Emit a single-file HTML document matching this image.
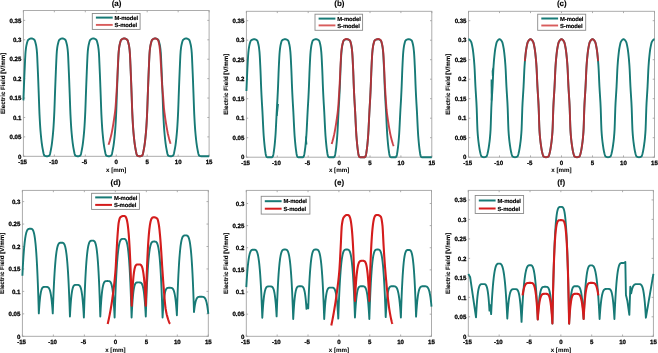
<!DOCTYPE html>
<html><head><meta charset="utf-8"><style>
html,body{margin:0;padding:0;background:#fff;width:658px;height:353px;overflow:hidden}
svg{display:block;will-change:transform}
text{text-rendering:geometricPrecision}
.t{font-family:"Liberation Sans", sans-serif;font-weight:bold;font-size:6.1px;fill:#000;stroke:#000;stroke-width:0.26px}
.yl{font-family:"Liberation Sans", sans-serif;font-weight:bold;font-size:6.2px;fill:#000;stroke:#000;stroke-width:0.12px}
.xl{font-family:"Liberation Sans", sans-serif;font-weight:bold;font-size:6.2px;fill:#000;stroke:#000;stroke-width:0.05px}
.ti{font-family:"Liberation Sans", sans-serif;font-weight:bold;font-size:8px;fill:#000;stroke:#000;stroke-width:0.1px}
.lg{font-family:"Liberation Sans", sans-serif;font-weight:bold;font-size:5.9px;fill:#000;stroke:#000;stroke-width:0.15px;letter-spacing:-0.12px}
</style></head><body>
<svg width="658" height="353" viewBox="0 0 658 353">
<rect width="658" height="353" fill="#fff"/>
<rect x="23.4" y="10.5" width="185.70" height="145.80" fill="none" stroke="#a8a8a8" stroke-width="0.95"/>
<line x1="23.40" y1="156.3" x2="23.40" y2="154.50" stroke="#9a9a9a" stroke-width="0.8"/>
<line x1="23.40" y1="10.5" x2="23.40" y2="12.30" stroke="#9a9a9a" stroke-width="0.8"/>
<text x="22.60" y="164.30" text-anchor="middle" class="t">-15</text>
<line x1="54.35" y1="156.3" x2="54.35" y2="154.50" stroke="#9a9a9a" stroke-width="0.8"/>
<line x1="54.35" y1="10.5" x2="54.35" y2="12.30" stroke="#9a9a9a" stroke-width="0.8"/>
<text x="53.55" y="164.30" text-anchor="middle" class="t">-10</text>
<line x1="85.30" y1="156.3" x2="85.30" y2="154.50" stroke="#9a9a9a" stroke-width="0.8"/>
<line x1="85.30" y1="10.5" x2="85.30" y2="12.30" stroke="#9a9a9a" stroke-width="0.8"/>
<text x="84.50" y="164.30" text-anchor="middle" class="t">-5</text>
<line x1="116.25" y1="156.3" x2="116.25" y2="154.50" stroke="#9a9a9a" stroke-width="0.8"/>
<line x1="116.25" y1="10.5" x2="116.25" y2="12.30" stroke="#9a9a9a" stroke-width="0.8"/>
<text x="116.25" y="164.30" text-anchor="middle" class="t">0</text>
<line x1="147.20" y1="156.3" x2="147.20" y2="154.50" stroke="#9a9a9a" stroke-width="0.8"/>
<line x1="147.20" y1="10.5" x2="147.20" y2="12.30" stroke="#9a9a9a" stroke-width="0.8"/>
<text x="147.20" y="164.30" text-anchor="middle" class="t">5</text>
<line x1="178.15" y1="156.3" x2="178.15" y2="154.50" stroke="#9a9a9a" stroke-width="0.8"/>
<line x1="178.15" y1="10.5" x2="178.15" y2="12.30" stroke="#9a9a9a" stroke-width="0.8"/>
<text x="178.15" y="164.30" text-anchor="middle" class="t">10</text>
<line x1="209.10" y1="156.3" x2="209.10" y2="154.50" stroke="#9a9a9a" stroke-width="0.8"/>
<line x1="209.10" y1="10.5" x2="209.10" y2="12.30" stroke="#9a9a9a" stroke-width="0.8"/>
<text x="209.10" y="164.30" text-anchor="middle" class="t">15</text>
<line x1="23.4" y1="156.30" x2="25.20" y2="156.30" stroke="#9a9a9a" stroke-width="0.8"/>
<line x1="209.1" y1="156.30" x2="207.30" y2="156.30" stroke="#9a9a9a" stroke-width="0.8"/>
<text x="21.40" y="158.50" text-anchor="end" class="t">0</text>
<line x1="23.4" y1="136.89" x2="25.20" y2="136.89" stroke="#9a9a9a" stroke-width="0.8"/>
<line x1="209.1" y1="136.89" x2="207.30" y2="136.89" stroke="#9a9a9a" stroke-width="0.8"/>
<text x="21.40" y="139.09" text-anchor="end" class="t">0.05</text>
<line x1="23.4" y1="117.47" x2="25.20" y2="117.47" stroke="#9a9a9a" stroke-width="0.8"/>
<line x1="209.1" y1="117.47" x2="207.30" y2="117.47" stroke="#9a9a9a" stroke-width="0.8"/>
<text x="21.40" y="119.67" text-anchor="end" class="t">0.1</text>
<line x1="23.4" y1="98.06" x2="25.20" y2="98.06" stroke="#9a9a9a" stroke-width="0.8"/>
<line x1="209.1" y1="98.06" x2="207.30" y2="98.06" stroke="#9a9a9a" stroke-width="0.8"/>
<text x="21.40" y="100.26" text-anchor="end" class="t">0.15</text>
<line x1="23.4" y1="78.64" x2="25.20" y2="78.64" stroke="#9a9a9a" stroke-width="0.8"/>
<line x1="209.1" y1="78.64" x2="207.30" y2="78.64" stroke="#9a9a9a" stroke-width="0.8"/>
<text x="21.40" y="80.84" text-anchor="end" class="t">0.2</text>
<line x1="23.4" y1="59.23" x2="25.20" y2="59.23" stroke="#9a9a9a" stroke-width="0.8"/>
<line x1="209.1" y1="59.23" x2="207.30" y2="59.23" stroke="#9a9a9a" stroke-width="0.8"/>
<text x="21.40" y="61.43" text-anchor="end" class="t">0.25</text>
<line x1="23.4" y1="39.81" x2="25.20" y2="39.81" stroke="#9a9a9a" stroke-width="0.8"/>
<line x1="209.1" y1="39.81" x2="207.30" y2="39.81" stroke="#9a9a9a" stroke-width="0.8"/>
<text x="21.40" y="42.01" text-anchor="end" class="t">0.3</text>
<line x1="23.4" y1="20.39" x2="25.20" y2="20.39" stroke="#9a9a9a" stroke-width="0.8"/>
<line x1="209.1" y1="20.39" x2="207.30" y2="20.39" stroke="#9a9a9a" stroke-width="0.8"/>
<text x="21.40" y="22.59" text-anchor="end" class="t">0.35</text>
<text x="116.55" y="5.60" text-anchor="middle" class="ti">(a)</text>
<text x="116.25" y="171.50" text-anchor="middle" class="xl">x [mm]</text>
<text transform="translate(5.20,83.40) rotate(-90)" x="0" y="0" text-anchor="middle" class="yl">Electric Field [V/mm]</text>
<rect x="246.4" y="11.3" width="185.40" height="145.90" fill="none" stroke="#a8a8a8" stroke-width="0.95"/>
<line x1="246.40" y1="157.2" x2="246.40" y2="155.40" stroke="#9a9a9a" stroke-width="0.8"/>
<line x1="246.40" y1="11.3" x2="246.40" y2="13.10" stroke="#9a9a9a" stroke-width="0.8"/>
<text x="245.60" y="165.20" text-anchor="middle" class="t">-15</text>
<line x1="277.30" y1="157.2" x2="277.30" y2="155.40" stroke="#9a9a9a" stroke-width="0.8"/>
<line x1="277.30" y1="11.3" x2="277.30" y2="13.10" stroke="#9a9a9a" stroke-width="0.8"/>
<text x="276.50" y="165.20" text-anchor="middle" class="t">-10</text>
<line x1="308.20" y1="157.2" x2="308.20" y2="155.40" stroke="#9a9a9a" stroke-width="0.8"/>
<line x1="308.20" y1="11.3" x2="308.20" y2="13.10" stroke="#9a9a9a" stroke-width="0.8"/>
<text x="307.40" y="165.20" text-anchor="middle" class="t">-5</text>
<line x1="339.10" y1="157.2" x2="339.10" y2="155.40" stroke="#9a9a9a" stroke-width="0.8"/>
<line x1="339.10" y1="11.3" x2="339.10" y2="13.10" stroke="#9a9a9a" stroke-width="0.8"/>
<text x="339.10" y="165.20" text-anchor="middle" class="t">0</text>
<line x1="370.00" y1="157.2" x2="370.00" y2="155.40" stroke="#9a9a9a" stroke-width="0.8"/>
<line x1="370.00" y1="11.3" x2="370.00" y2="13.10" stroke="#9a9a9a" stroke-width="0.8"/>
<text x="370.00" y="165.20" text-anchor="middle" class="t">5</text>
<line x1="400.90" y1="157.2" x2="400.90" y2="155.40" stroke="#9a9a9a" stroke-width="0.8"/>
<line x1="400.90" y1="11.3" x2="400.90" y2="13.10" stroke="#9a9a9a" stroke-width="0.8"/>
<text x="400.90" y="165.20" text-anchor="middle" class="t">10</text>
<line x1="431.80" y1="157.2" x2="431.80" y2="155.40" stroke="#9a9a9a" stroke-width="0.8"/>
<line x1="431.80" y1="11.3" x2="431.80" y2="13.10" stroke="#9a9a9a" stroke-width="0.8"/>
<text x="431.80" y="165.20" text-anchor="middle" class="t">15</text>
<line x1="246.4" y1="157.20" x2="248.20" y2="157.20" stroke="#9a9a9a" stroke-width="0.8"/>
<line x1="431.8" y1="157.20" x2="430.00" y2="157.20" stroke="#9a9a9a" stroke-width="0.8"/>
<text x="244.40" y="159.40" text-anchor="end" class="t">0</text>
<line x1="246.4" y1="137.70" x2="248.20" y2="137.70" stroke="#9a9a9a" stroke-width="0.8"/>
<line x1="431.8" y1="137.70" x2="430.00" y2="137.70" stroke="#9a9a9a" stroke-width="0.8"/>
<text x="244.40" y="139.90" text-anchor="end" class="t">0.05</text>
<line x1="246.4" y1="118.20" x2="248.20" y2="118.20" stroke="#9a9a9a" stroke-width="0.8"/>
<line x1="431.8" y1="118.20" x2="430.00" y2="118.20" stroke="#9a9a9a" stroke-width="0.8"/>
<text x="244.40" y="120.40" text-anchor="end" class="t">0.1</text>
<line x1="246.4" y1="98.70" x2="248.20" y2="98.70" stroke="#9a9a9a" stroke-width="0.8"/>
<line x1="431.8" y1="98.70" x2="430.00" y2="98.70" stroke="#9a9a9a" stroke-width="0.8"/>
<text x="244.40" y="100.90" text-anchor="end" class="t">0.15</text>
<line x1="246.4" y1="79.20" x2="248.20" y2="79.20" stroke="#9a9a9a" stroke-width="0.8"/>
<line x1="431.8" y1="79.20" x2="430.00" y2="79.20" stroke="#9a9a9a" stroke-width="0.8"/>
<text x="244.40" y="81.40" text-anchor="end" class="t">0.2</text>
<line x1="246.4" y1="59.70" x2="248.20" y2="59.70" stroke="#9a9a9a" stroke-width="0.8"/>
<line x1="431.8" y1="59.70" x2="430.00" y2="59.70" stroke="#9a9a9a" stroke-width="0.8"/>
<text x="244.40" y="61.90" text-anchor="end" class="t">0.25</text>
<line x1="246.4" y1="40.20" x2="248.20" y2="40.20" stroke="#9a9a9a" stroke-width="0.8"/>
<line x1="431.8" y1="40.20" x2="430.00" y2="40.20" stroke="#9a9a9a" stroke-width="0.8"/>
<text x="244.40" y="42.40" text-anchor="end" class="t">0.3</text>
<line x1="246.4" y1="20.70" x2="248.20" y2="20.70" stroke="#9a9a9a" stroke-width="0.8"/>
<line x1="431.8" y1="20.70" x2="430.00" y2="20.70" stroke="#9a9a9a" stroke-width="0.8"/>
<text x="244.40" y="22.90" text-anchor="end" class="t">0.35</text>
<text x="339.40" y="5.60" text-anchor="middle" class="ti">(b)</text>
<text x="339.10" y="172.40" text-anchor="middle" class="xl">x [mm]</text>
<text transform="translate(228.20,84.25) rotate(-90)" x="0" y="0" text-anchor="middle" class="yl">Electric Field [V/mm]</text>
<rect x="468.5" y="11.3" width="186.00" height="145.90" fill="none" stroke="#a8a8a8" stroke-width="0.95"/>
<line x1="468.50" y1="157.2" x2="468.50" y2="155.40" stroke="#9a9a9a" stroke-width="0.8"/>
<line x1="468.50" y1="11.3" x2="468.50" y2="13.10" stroke="#9a9a9a" stroke-width="0.8"/>
<text x="467.70" y="165.20" text-anchor="middle" class="t">-15</text>
<line x1="499.50" y1="157.2" x2="499.50" y2="155.40" stroke="#9a9a9a" stroke-width="0.8"/>
<line x1="499.50" y1="11.3" x2="499.50" y2="13.10" stroke="#9a9a9a" stroke-width="0.8"/>
<text x="498.70" y="165.20" text-anchor="middle" class="t">-10</text>
<line x1="530.50" y1="157.2" x2="530.50" y2="155.40" stroke="#9a9a9a" stroke-width="0.8"/>
<line x1="530.50" y1="11.3" x2="530.50" y2="13.10" stroke="#9a9a9a" stroke-width="0.8"/>
<text x="529.70" y="165.20" text-anchor="middle" class="t">-5</text>
<line x1="561.50" y1="157.2" x2="561.50" y2="155.40" stroke="#9a9a9a" stroke-width="0.8"/>
<line x1="561.50" y1="11.3" x2="561.50" y2="13.10" stroke="#9a9a9a" stroke-width="0.8"/>
<text x="561.50" y="165.20" text-anchor="middle" class="t">0</text>
<line x1="592.50" y1="157.2" x2="592.50" y2="155.40" stroke="#9a9a9a" stroke-width="0.8"/>
<line x1="592.50" y1="11.3" x2="592.50" y2="13.10" stroke="#9a9a9a" stroke-width="0.8"/>
<text x="592.50" y="165.20" text-anchor="middle" class="t">5</text>
<line x1="623.50" y1="157.2" x2="623.50" y2="155.40" stroke="#9a9a9a" stroke-width="0.8"/>
<line x1="623.50" y1="11.3" x2="623.50" y2="13.10" stroke="#9a9a9a" stroke-width="0.8"/>
<text x="623.50" y="165.20" text-anchor="middle" class="t">10</text>
<line x1="654.50" y1="157.2" x2="654.50" y2="155.40" stroke="#9a9a9a" stroke-width="0.8"/>
<line x1="654.50" y1="11.3" x2="654.50" y2="13.10" stroke="#9a9a9a" stroke-width="0.8"/>
<text x="654.50" y="165.20" text-anchor="middle" class="t">15</text>
<line x1="468.5" y1="157.20" x2="470.30" y2="157.20" stroke="#9a9a9a" stroke-width="0.8"/>
<line x1="654.5" y1="157.20" x2="652.70" y2="157.20" stroke="#9a9a9a" stroke-width="0.8"/>
<text x="466.50" y="159.40" text-anchor="end" class="t">0</text>
<line x1="468.5" y1="137.70" x2="470.30" y2="137.70" stroke="#9a9a9a" stroke-width="0.8"/>
<line x1="654.5" y1="137.70" x2="652.70" y2="137.70" stroke="#9a9a9a" stroke-width="0.8"/>
<text x="466.50" y="139.90" text-anchor="end" class="t">0.05</text>
<line x1="468.5" y1="118.20" x2="470.30" y2="118.20" stroke="#9a9a9a" stroke-width="0.8"/>
<line x1="654.5" y1="118.20" x2="652.70" y2="118.20" stroke="#9a9a9a" stroke-width="0.8"/>
<text x="466.50" y="120.40" text-anchor="end" class="t">0.1</text>
<line x1="468.5" y1="98.70" x2="470.30" y2="98.70" stroke="#9a9a9a" stroke-width="0.8"/>
<line x1="654.5" y1="98.70" x2="652.70" y2="98.70" stroke="#9a9a9a" stroke-width="0.8"/>
<text x="466.50" y="100.90" text-anchor="end" class="t">0.15</text>
<line x1="468.5" y1="79.20" x2="470.30" y2="79.20" stroke="#9a9a9a" stroke-width="0.8"/>
<line x1="654.5" y1="79.20" x2="652.70" y2="79.20" stroke="#9a9a9a" stroke-width="0.8"/>
<text x="466.50" y="81.40" text-anchor="end" class="t">0.2</text>
<line x1="468.5" y1="59.70" x2="470.30" y2="59.70" stroke="#9a9a9a" stroke-width="0.8"/>
<line x1="654.5" y1="59.70" x2="652.70" y2="59.70" stroke="#9a9a9a" stroke-width="0.8"/>
<text x="466.50" y="61.90" text-anchor="end" class="t">0.25</text>
<line x1="468.5" y1="40.20" x2="470.30" y2="40.20" stroke="#9a9a9a" stroke-width="0.8"/>
<line x1="654.5" y1="40.20" x2="652.70" y2="40.20" stroke="#9a9a9a" stroke-width="0.8"/>
<text x="466.50" y="42.40" text-anchor="end" class="t">0.3</text>
<line x1="468.5" y1="20.70" x2="470.30" y2="20.70" stroke="#9a9a9a" stroke-width="0.8"/>
<line x1="654.5" y1="20.70" x2="652.70" y2="20.70" stroke="#9a9a9a" stroke-width="0.8"/>
<text x="466.50" y="22.90" text-anchor="end" class="t">0.35</text>
<text x="561.80" y="5.60" text-anchor="middle" class="ti">(c)</text>
<text x="561.50" y="172.40" text-anchor="middle" class="xl">x [mm]</text>
<text transform="translate(450.30,84.25) rotate(-90)" x="0" y="0" text-anchor="middle" class="yl">Electric Field [V/mm]</text>
<rect x="22.4" y="190.4" width="185.90" height="145.90" fill="none" stroke="#a8a8a8" stroke-width="0.95"/>
<line x1="22.40" y1="336.3" x2="22.40" y2="334.50" stroke="#9a9a9a" stroke-width="0.8"/>
<line x1="22.40" y1="190.4" x2="22.40" y2="192.20" stroke="#9a9a9a" stroke-width="0.8"/>
<text x="21.60" y="344.30" text-anchor="middle" class="t">-15</text>
<line x1="53.38" y1="336.3" x2="53.38" y2="334.50" stroke="#9a9a9a" stroke-width="0.8"/>
<line x1="53.38" y1="190.4" x2="53.38" y2="192.20" stroke="#9a9a9a" stroke-width="0.8"/>
<text x="52.58" y="344.30" text-anchor="middle" class="t">-10</text>
<line x1="84.37" y1="336.3" x2="84.37" y2="334.50" stroke="#9a9a9a" stroke-width="0.8"/>
<line x1="84.37" y1="190.4" x2="84.37" y2="192.20" stroke="#9a9a9a" stroke-width="0.8"/>
<text x="83.57" y="344.30" text-anchor="middle" class="t">-5</text>
<line x1="115.35" y1="336.3" x2="115.35" y2="334.50" stroke="#9a9a9a" stroke-width="0.8"/>
<line x1="115.35" y1="190.4" x2="115.35" y2="192.20" stroke="#9a9a9a" stroke-width="0.8"/>
<text x="115.35" y="344.30" text-anchor="middle" class="t">0</text>
<line x1="146.33" y1="336.3" x2="146.33" y2="334.50" stroke="#9a9a9a" stroke-width="0.8"/>
<line x1="146.33" y1="190.4" x2="146.33" y2="192.20" stroke="#9a9a9a" stroke-width="0.8"/>
<text x="146.33" y="344.30" text-anchor="middle" class="t">5</text>
<line x1="177.32" y1="336.3" x2="177.32" y2="334.50" stroke="#9a9a9a" stroke-width="0.8"/>
<line x1="177.32" y1="190.4" x2="177.32" y2="192.20" stroke="#9a9a9a" stroke-width="0.8"/>
<text x="177.32" y="344.30" text-anchor="middle" class="t">10</text>
<line x1="208.30" y1="336.3" x2="208.30" y2="334.50" stroke="#9a9a9a" stroke-width="0.8"/>
<line x1="208.30" y1="190.4" x2="208.30" y2="192.20" stroke="#9a9a9a" stroke-width="0.8"/>
<text x="208.30" y="344.30" text-anchor="middle" class="t">15</text>
<line x1="22.4" y1="336.30" x2="24.20" y2="336.30" stroke="#9a9a9a" stroke-width="0.8"/>
<line x1="208.3" y1="336.30" x2="206.50" y2="336.30" stroke="#9a9a9a" stroke-width="0.8"/>
<text x="20.40" y="338.50" text-anchor="end" class="t">0</text>
<line x1="22.4" y1="313.85" x2="24.20" y2="313.85" stroke="#9a9a9a" stroke-width="0.8"/>
<line x1="208.3" y1="313.85" x2="206.50" y2="313.85" stroke="#9a9a9a" stroke-width="0.8"/>
<text x="20.40" y="316.05" text-anchor="end" class="t">0.05</text>
<line x1="22.4" y1="291.40" x2="24.20" y2="291.40" stroke="#9a9a9a" stroke-width="0.8"/>
<line x1="208.3" y1="291.40" x2="206.50" y2="291.40" stroke="#9a9a9a" stroke-width="0.8"/>
<text x="20.40" y="293.60" text-anchor="end" class="t">0.1</text>
<line x1="22.4" y1="268.95" x2="24.20" y2="268.95" stroke="#9a9a9a" stroke-width="0.8"/>
<line x1="208.3" y1="268.95" x2="206.50" y2="268.95" stroke="#9a9a9a" stroke-width="0.8"/>
<text x="20.40" y="271.15" text-anchor="end" class="t">0.15</text>
<line x1="22.4" y1="246.50" x2="24.20" y2="246.50" stroke="#9a9a9a" stroke-width="0.8"/>
<line x1="208.3" y1="246.50" x2="206.50" y2="246.50" stroke="#9a9a9a" stroke-width="0.8"/>
<text x="20.40" y="248.70" text-anchor="end" class="t">0.2</text>
<line x1="22.4" y1="224.05" x2="24.20" y2="224.05" stroke="#9a9a9a" stroke-width="0.8"/>
<line x1="208.3" y1="224.05" x2="206.50" y2="224.05" stroke="#9a9a9a" stroke-width="0.8"/>
<text x="20.40" y="226.25" text-anchor="end" class="t">0.25</text>
<line x1="22.4" y1="201.60" x2="24.20" y2="201.60" stroke="#9a9a9a" stroke-width="0.8"/>
<line x1="208.3" y1="201.60" x2="206.50" y2="201.60" stroke="#9a9a9a" stroke-width="0.8"/>
<text x="20.40" y="203.80" text-anchor="end" class="t">0.3</text>
<text x="115.65" y="185.00" text-anchor="middle" class="ti">(d)</text>
<text x="115.35" y="351.50" text-anchor="middle" class="xl">x [mm]</text>
<text transform="translate(4.20,263.35) rotate(-90)" x="0" y="0" text-anchor="middle" class="yl">Electric Field [V/mm]</text>
<rect x="246.3" y="190.4" width="185.20" height="145.90" fill="none" stroke="#a8a8a8" stroke-width="0.95"/>
<line x1="246.30" y1="336.3" x2="246.30" y2="334.50" stroke="#9a9a9a" stroke-width="0.8"/>
<line x1="246.30" y1="190.4" x2="246.30" y2="192.20" stroke="#9a9a9a" stroke-width="0.8"/>
<text x="245.50" y="344.30" text-anchor="middle" class="t">-15</text>
<line x1="277.17" y1="336.3" x2="277.17" y2="334.50" stroke="#9a9a9a" stroke-width="0.8"/>
<line x1="277.17" y1="190.4" x2="277.17" y2="192.20" stroke="#9a9a9a" stroke-width="0.8"/>
<text x="276.37" y="344.30" text-anchor="middle" class="t">-10</text>
<line x1="308.03" y1="336.3" x2="308.03" y2="334.50" stroke="#9a9a9a" stroke-width="0.8"/>
<line x1="308.03" y1="190.4" x2="308.03" y2="192.20" stroke="#9a9a9a" stroke-width="0.8"/>
<text x="307.23" y="344.30" text-anchor="middle" class="t">-5</text>
<line x1="338.90" y1="336.3" x2="338.90" y2="334.50" stroke="#9a9a9a" stroke-width="0.8"/>
<line x1="338.90" y1="190.4" x2="338.90" y2="192.20" stroke="#9a9a9a" stroke-width="0.8"/>
<text x="338.90" y="344.30" text-anchor="middle" class="t">0</text>
<line x1="369.77" y1="336.3" x2="369.77" y2="334.50" stroke="#9a9a9a" stroke-width="0.8"/>
<line x1="369.77" y1="190.4" x2="369.77" y2="192.20" stroke="#9a9a9a" stroke-width="0.8"/>
<text x="369.77" y="344.30" text-anchor="middle" class="t">5</text>
<line x1="400.63" y1="336.3" x2="400.63" y2="334.50" stroke="#9a9a9a" stroke-width="0.8"/>
<line x1="400.63" y1="190.4" x2="400.63" y2="192.20" stroke="#9a9a9a" stroke-width="0.8"/>
<text x="400.63" y="344.30" text-anchor="middle" class="t">10</text>
<line x1="431.50" y1="336.3" x2="431.50" y2="334.50" stroke="#9a9a9a" stroke-width="0.8"/>
<line x1="431.50" y1="190.4" x2="431.50" y2="192.20" stroke="#9a9a9a" stroke-width="0.8"/>
<text x="431.50" y="344.30" text-anchor="middle" class="t">15</text>
<line x1="246.3" y1="336.30" x2="248.10" y2="336.30" stroke="#9a9a9a" stroke-width="0.8"/>
<line x1="431.5" y1="336.30" x2="429.70" y2="336.30" stroke="#9a9a9a" stroke-width="0.8"/>
<text x="244.30" y="338.50" text-anchor="end" class="t">0</text>
<line x1="246.3" y1="314.17" x2="248.10" y2="314.17" stroke="#9a9a9a" stroke-width="0.8"/>
<line x1="431.5" y1="314.17" x2="429.70" y2="314.17" stroke="#9a9a9a" stroke-width="0.8"/>
<text x="244.30" y="316.37" text-anchor="end" class="t">0.05</text>
<line x1="246.3" y1="292.03" x2="248.10" y2="292.03" stroke="#9a9a9a" stroke-width="0.8"/>
<line x1="431.5" y1="292.03" x2="429.70" y2="292.03" stroke="#9a9a9a" stroke-width="0.8"/>
<text x="244.30" y="294.23" text-anchor="end" class="t">0.1</text>
<line x1="246.3" y1="269.89" x2="248.10" y2="269.89" stroke="#9a9a9a" stroke-width="0.8"/>
<line x1="431.5" y1="269.89" x2="429.70" y2="269.89" stroke="#9a9a9a" stroke-width="0.8"/>
<text x="244.30" y="272.09" text-anchor="end" class="t">0.15</text>
<line x1="246.3" y1="247.76" x2="248.10" y2="247.76" stroke="#9a9a9a" stroke-width="0.8"/>
<line x1="431.5" y1="247.76" x2="429.70" y2="247.76" stroke="#9a9a9a" stroke-width="0.8"/>
<text x="244.30" y="249.96" text-anchor="end" class="t">0.2</text>
<line x1="246.3" y1="225.62" x2="248.10" y2="225.62" stroke="#9a9a9a" stroke-width="0.8"/>
<line x1="431.5" y1="225.62" x2="429.70" y2="225.62" stroke="#9a9a9a" stroke-width="0.8"/>
<text x="244.30" y="227.82" text-anchor="end" class="t">0.25</text>
<line x1="246.3" y1="203.49" x2="248.10" y2="203.49" stroke="#9a9a9a" stroke-width="0.8"/>
<line x1="431.5" y1="203.49" x2="429.70" y2="203.49" stroke="#9a9a9a" stroke-width="0.8"/>
<text x="244.30" y="205.69" text-anchor="end" class="t">0.3</text>
<text x="339.20" y="185.00" text-anchor="middle" class="ti">(e)</text>
<text x="338.90" y="351.50" text-anchor="middle" class="xl">x [mm]</text>
<text transform="translate(228.10,263.35) rotate(-90)" x="0" y="0" text-anchor="middle" class="yl">Electric Field [V/mm]</text>
<rect x="468.3" y="190.4" width="185.10" height="145.90" fill="none" stroke="#a8a8a8" stroke-width="0.95"/>
<line x1="468.30" y1="336.3" x2="468.30" y2="334.50" stroke="#9a9a9a" stroke-width="0.8"/>
<line x1="468.30" y1="190.4" x2="468.30" y2="192.20" stroke="#9a9a9a" stroke-width="0.8"/>
<text x="467.50" y="344.30" text-anchor="middle" class="t">-15</text>
<line x1="499.15" y1="336.3" x2="499.15" y2="334.50" stroke="#9a9a9a" stroke-width="0.8"/>
<line x1="499.15" y1="190.4" x2="499.15" y2="192.20" stroke="#9a9a9a" stroke-width="0.8"/>
<text x="498.35" y="344.30" text-anchor="middle" class="t">-10</text>
<line x1="530.00" y1="336.3" x2="530.00" y2="334.50" stroke="#9a9a9a" stroke-width="0.8"/>
<line x1="530.00" y1="190.4" x2="530.00" y2="192.20" stroke="#9a9a9a" stroke-width="0.8"/>
<text x="529.20" y="344.30" text-anchor="middle" class="t">-5</text>
<line x1="560.85" y1="336.3" x2="560.85" y2="334.50" stroke="#9a9a9a" stroke-width="0.8"/>
<line x1="560.85" y1="190.4" x2="560.85" y2="192.20" stroke="#9a9a9a" stroke-width="0.8"/>
<text x="560.85" y="344.30" text-anchor="middle" class="t">0</text>
<line x1="591.70" y1="336.3" x2="591.70" y2="334.50" stroke="#9a9a9a" stroke-width="0.8"/>
<line x1="591.70" y1="190.4" x2="591.70" y2="192.20" stroke="#9a9a9a" stroke-width="0.8"/>
<text x="591.70" y="344.30" text-anchor="middle" class="t">5</text>
<line x1="622.55" y1="336.3" x2="622.55" y2="334.50" stroke="#9a9a9a" stroke-width="0.8"/>
<line x1="622.55" y1="190.4" x2="622.55" y2="192.20" stroke="#9a9a9a" stroke-width="0.8"/>
<text x="622.55" y="344.30" text-anchor="middle" class="t">10</text>
<line x1="653.40" y1="336.3" x2="653.40" y2="334.50" stroke="#9a9a9a" stroke-width="0.8"/>
<line x1="653.40" y1="190.4" x2="653.40" y2="192.20" stroke="#9a9a9a" stroke-width="0.8"/>
<text x="653.40" y="344.30" text-anchor="middle" class="t">15</text>
<line x1="468.3" y1="336.30" x2="470.10" y2="336.30" stroke="#9a9a9a" stroke-width="0.8"/>
<line x1="653.4" y1="336.30" x2="651.60" y2="336.30" stroke="#9a9a9a" stroke-width="0.8"/>
<text x="466.30" y="338.50" text-anchor="end" class="t">0</text>
<line x1="468.3" y1="316.81" x2="470.10" y2="316.81" stroke="#9a9a9a" stroke-width="0.8"/>
<line x1="653.4" y1="316.81" x2="651.60" y2="316.81" stroke="#9a9a9a" stroke-width="0.8"/>
<text x="466.30" y="319.01" text-anchor="end" class="t">0.05</text>
<line x1="468.3" y1="297.33" x2="470.10" y2="297.33" stroke="#9a9a9a" stroke-width="0.8"/>
<line x1="653.4" y1="297.33" x2="651.60" y2="297.33" stroke="#9a9a9a" stroke-width="0.8"/>
<text x="466.30" y="299.53" text-anchor="end" class="t">0.1</text>
<line x1="468.3" y1="277.85" x2="470.10" y2="277.85" stroke="#9a9a9a" stroke-width="0.8"/>
<line x1="653.4" y1="277.85" x2="651.60" y2="277.85" stroke="#9a9a9a" stroke-width="0.8"/>
<text x="466.30" y="280.05" text-anchor="end" class="t">0.15</text>
<line x1="468.3" y1="258.36" x2="470.10" y2="258.36" stroke="#9a9a9a" stroke-width="0.8"/>
<line x1="653.4" y1="258.36" x2="651.60" y2="258.36" stroke="#9a9a9a" stroke-width="0.8"/>
<text x="466.30" y="260.56" text-anchor="end" class="t">0.2</text>
<line x1="468.3" y1="238.88" x2="470.10" y2="238.88" stroke="#9a9a9a" stroke-width="0.8"/>
<line x1="653.4" y1="238.88" x2="651.60" y2="238.88" stroke="#9a9a9a" stroke-width="0.8"/>
<text x="466.30" y="241.07" text-anchor="end" class="t">0.25</text>
<line x1="468.3" y1="219.39" x2="470.10" y2="219.39" stroke="#9a9a9a" stroke-width="0.8"/>
<line x1="653.4" y1="219.39" x2="651.60" y2="219.39" stroke="#9a9a9a" stroke-width="0.8"/>
<text x="466.30" y="221.59" text-anchor="end" class="t">0.3</text>
<line x1="468.3" y1="199.91" x2="470.10" y2="199.91" stroke="#9a9a9a" stroke-width="0.8"/>
<line x1="653.4" y1="199.91" x2="651.60" y2="199.91" stroke="#9a9a9a" stroke-width="0.8"/>
<text x="466.30" y="202.10" text-anchor="end" class="t">0.35</text>
<text x="561.15" y="185.00" text-anchor="middle" class="ti">(f)</text>
<text x="560.85" y="351.50" text-anchor="middle" class="xl">x [mm]</text>
<text transform="translate(450.10,263.35) rotate(-90)" x="0" y="0" text-anchor="middle" class="yl">Electric Field [V/mm]</text>
<polyline points="23.40,100.39 23.65,93.76 23.90,87.50 24.14,81.30 24.39,75.31 24.64,69.70 24.89,64.26 25.13,58.84 25.38,54.19 25.63,51.04 25.88,48.86 26.12,47.09 26.37,45.66 26.62,44.51 26.87,43.51 27.11,42.57 27.36,41.72 27.61,40.99 27.86,40.40 28.10,39.97 28.35,39.73 28.60,39.54 28.85,39.37 29.09,39.20 29.34,39.05 29.59,38.92 29.84,38.80 30.09,38.70 30.33,38.62 30.58,38.55 30.83,38.50 31.08,38.47 31.32,38.45 31.57,38.46 31.82,38.48 32.07,38.53 32.31,38.59 32.56,38.68 32.81,38.78 33.06,38.90 33.30,39.04 33.55,39.20 33.80,39.37 34.05,39.56 34.29,39.76 34.54,40.03 34.79,40.51 35.04,41.18 35.28,41.99 35.53,42.92 35.78,43.94 36.03,45.04 36.28,46.39 36.52,48.09 36.77,50.22 37.02,53.05 37.27,57.58 37.51,63.17 37.76,68.93 38.01,74.78 38.26,81.06 38.50,87.59 38.75,94.17 39.00,101.20 39.25,108.29 39.49,114.12 39.74,119.07 39.99,123.53 40.24,127.42 40.48,130.67 40.73,133.49 40.98,136.11 41.23,138.53 41.47,140.77 41.72,142.82 41.97,144.69 42.22,146.36 42.47,147.86 42.71,149.19 42.96,150.51 43.21,151.77 43.46,152.94 43.70,153.96 43.95,154.77 44.20,155.31 44.45,155.56 44.69,155.70 44.94,155.83 45.19,155.94 45.44,156.04 45.68,156.12 45.93,156.19 46.18,156.24 46.43,156.28 46.67,156.30 46.92,156.30 47.17,156.29 47.42,156.26 47.66,156.21 47.91,156.15 48.16,156.08 48.41,155.99 48.66,155.88 48.90,155.77 49.15,155.63 49.40,155.47 49.65,155.08 49.89,154.39 50.14,153.47 50.39,152.37 50.64,151.15 50.88,149.85 51.13,148.53 51.38,147.13 51.63,145.55 51.87,143.78 52.12,141.82 52.37,139.68 52.62,137.34 52.86,134.82 53.11,132.10 53.36,129.13 53.61,125.55 53.85,121.36 54.10,116.65 54.35,111.42 54.60,104.83 54.85,97.60 55.09,90.88 55.34,84.30 55.59,77.87 55.84,71.79 56.08,66.08 56.33,60.29 56.58,55.12 56.83,51.46 57.07,49.10 57.32,47.19 57.57,45.68 57.82,44.47 58.06,43.42 58.31,42.44 58.56,41.57 58.81,40.83 59.05,40.25 59.30,39.87 59.55,39.65 59.80,39.46 60.04,39.28 60.29,39.12 60.54,38.97 60.79,38.84 61.04,38.73 61.28,38.63 61.53,38.56 61.78,38.50 62.03,38.47 62.27,38.45 62.52,38.46 62.77,38.48 63.02,38.53 63.26,38.59 63.51,38.68 63.76,38.78 64.01,38.90 64.25,39.04 64.50,39.20 64.75,39.37 65.00,39.56 65.24,39.76 65.49,40.03 65.74,40.51 65.99,41.18 66.23,41.99 66.48,42.92 66.73,43.94 66.98,45.04 67.23,46.39 67.47,48.09 67.72,50.22 67.97,53.05 68.22,57.58 68.46,63.17 68.71,68.93 68.96,74.78 69.21,81.06 69.45,87.59 69.70,94.17 69.95,101.20 70.20,108.29 70.44,114.12 70.69,119.07 70.94,123.53 71.19,127.42 71.43,130.67 71.68,133.49 71.93,136.11 72.18,138.53 72.42,140.77 72.67,142.82 72.92,144.69 73.17,146.36 73.42,147.86 73.66,149.19 73.91,150.51 74.16,151.77 74.41,152.94 74.65,153.96 74.90,154.77 75.15,155.31 75.40,155.56 75.64,155.70 75.89,155.83 76.14,155.94 76.39,156.04 76.63,156.12 76.88,156.19 77.13,156.24 77.38,156.28 77.62,156.30 77.87,156.30 78.12,156.29 78.37,156.26 78.61,156.21 78.86,156.15 79.11,156.08 79.36,155.99 79.61,155.88 79.85,155.77 80.10,155.63 80.35,155.47 80.60,155.08 80.84,154.39 81.09,153.47 81.34,152.37 81.59,151.15 81.83,149.85 82.08,148.53 82.33,147.13 82.58,145.55 82.82,143.78 83.07,141.82 83.32,139.68 83.57,137.34 83.81,134.82 84.06,132.10 84.31,129.13 84.56,125.55 84.80,121.36 85.05,116.65 85.30,111.42 85.55,104.83 85.80,97.60 86.04,90.88 86.29,84.30 86.54,77.87 86.79,71.79 87.03,66.08 87.28,60.29 87.53,55.12 87.78,51.46 88.02,49.10 88.27,47.19 88.52,45.68 88.77,44.47 89.01,43.42 89.26,42.44 89.51,41.57 89.76,40.83 90.00,40.25 90.25,39.87 90.50,39.65 90.75,39.46 90.99,39.28 91.24,39.12 91.49,38.97 91.74,38.84 91.99,38.73 92.23,38.63 92.48,38.56 92.73,38.50 92.98,38.47 93.22,38.45 93.47,38.46 93.72,38.48 93.97,38.53 94.21,38.59 94.46,38.68 94.71,38.78 94.96,38.90 95.20,39.04 95.45,39.20 95.70,39.37 95.95,39.56 96.19,39.76 96.44,40.03 96.69,40.51 96.94,41.18 97.18,41.99 97.43,42.92 97.68,43.94 97.93,45.04 98.18,46.39 98.42,48.09 98.67,50.22 98.92,53.05 99.17,57.58 99.41,63.17 99.66,68.93 99.91,74.78 100.16,81.06 100.40,87.59 100.65,94.17 100.90,101.20 101.15,108.29 101.39,114.12 101.64,119.07 101.89,123.53 102.14,127.42 102.38,130.67 102.63,133.49 102.88,136.11 103.13,138.53 103.37,140.77 103.62,142.82 103.87,144.69 104.12,146.36 104.37,147.86 104.61,149.19 104.86,150.51 105.11,151.77 105.36,152.94 105.60,153.96 105.85,154.77 106.10,155.31 106.35,155.56 106.59,155.70 106.84,155.83 107.09,155.94 107.34,156.04 107.58,156.12 107.83,156.19 108.08,156.24 108.33,156.28 108.57,156.30 108.82,156.30 109.07,156.29 109.32,156.26 109.56,156.21 109.81,156.15 110.06,156.08 110.31,155.99 110.56,155.88 110.80,155.77 111.05,155.63 111.30,155.47 111.55,155.08 111.79,154.39 112.04,153.47 112.29,152.37 112.54,151.15 112.78,149.85 113.03,148.53 113.28,147.13 113.53,145.55 113.77,143.78 114.02,141.82 114.27,139.68 114.52,137.34 114.76,134.82 115.01,132.10 115.26,129.13 115.51,125.55 115.75,121.36 116.00,116.65 116.25,111.42 116.50,104.83 116.75,97.60 116.99,90.88 117.24,84.30 117.49,77.87 117.74,71.79 117.98,66.08 118.23,60.29 118.48,55.12 118.73,51.46 118.97,49.10 119.22,47.19 119.47,45.68 119.72,44.47 119.96,43.42 120.21,42.44 120.46,41.57 120.71,40.83 120.95,40.25 121.20,39.87 121.45,39.65 121.70,39.46 121.94,39.28 122.19,39.12 122.44,38.97 122.69,38.84 122.94,38.73 123.18,38.63 123.43,38.56 123.68,38.50 123.93,38.47 124.17,38.45 124.42,38.46 124.67,38.48 124.92,38.53 125.16,38.59 125.41,38.68 125.66,38.78 125.91,38.90 126.15,39.04 126.40,39.20 126.65,39.37 126.90,39.56 127.14,39.76 127.39,40.03 127.64,40.51 127.89,41.18 128.13,41.99 128.38,42.92 128.63,43.94 128.88,45.04 129.13,46.39 129.37,48.09 129.62,50.22 129.87,53.05 130.12,57.58 130.36,63.17 130.61,68.93 130.86,74.78 131.11,81.06 131.35,87.59 131.60,94.17 131.85,101.20 132.10,108.29 132.34,114.12 132.59,119.07 132.84,123.53 133.09,127.42 133.33,130.67 133.58,133.49 133.83,136.11 134.08,138.53 134.32,140.77 134.57,142.82 134.82,144.69 135.07,146.36 135.32,147.86 135.56,149.19 135.81,150.51 136.06,151.77 136.31,152.94 136.55,153.96 136.80,154.77 137.05,155.31 137.30,155.56 137.54,155.70 137.79,155.83 138.04,155.94 138.29,156.04 138.53,156.12 138.78,156.19 139.03,156.24 139.28,156.28 139.52,156.30 139.77,156.30 140.02,156.29 140.27,156.26 140.51,156.21 140.76,156.15 141.01,156.08 141.26,155.99 141.51,155.88 141.75,155.77 142.00,155.63 142.25,155.47 142.50,155.08 142.74,154.39 142.99,153.47 143.24,152.37 143.49,151.15 143.73,149.85 143.98,148.53 144.23,147.13 144.48,145.55 144.72,143.78 144.97,141.82 145.22,139.68 145.47,137.34 145.71,134.82 145.96,132.10 146.21,129.13 146.46,125.55 146.70,121.36 146.95,116.65 147.20,111.42 147.45,104.83 147.70,97.60 147.94,90.88 148.19,84.30 148.44,77.87 148.69,71.79 148.93,66.08 149.18,60.29 149.43,55.12 149.68,51.46 149.92,49.10 150.17,47.19 150.42,45.68 150.67,44.47 150.91,43.42 151.16,42.44 151.41,41.57 151.66,40.83 151.90,40.25 152.15,39.87 152.40,39.65 152.65,39.46 152.89,39.28 153.14,39.12 153.39,38.97 153.64,38.84 153.89,38.73 154.13,38.63 154.38,38.56 154.63,38.50 154.88,38.47 155.12,38.45 155.37,38.46 155.62,38.48 155.87,38.53 156.11,38.59 156.36,38.68 156.61,38.78 156.86,38.90 157.10,39.04 157.35,39.20 157.60,39.37 157.85,39.56 158.09,39.76 158.34,40.03 158.59,40.51 158.84,41.18 159.08,41.99 159.33,42.92 159.58,43.94 159.83,45.04 160.08,46.39 160.32,48.09 160.57,50.22 160.82,53.05 161.07,57.58 161.31,63.17 161.56,68.93 161.81,74.78 162.06,81.06 162.30,87.59 162.55,94.17 162.80,101.20 163.05,108.29 163.29,114.12 163.54,119.07 163.79,123.53 164.04,127.42 164.28,130.67 164.53,133.49 164.78,136.11 165.03,138.53 165.27,140.77 165.52,142.82 165.77,144.69 166.02,146.36 166.27,147.86 166.51,149.19 166.76,150.51 167.01,151.77 167.26,152.94 167.50,153.96 167.75,154.77 168.00,155.31 168.25,155.56 168.49,155.70 168.74,155.83 168.99,155.94 169.24,156.04 169.48,156.12 169.73,156.19 169.98,156.24 170.23,156.28 170.47,156.30 170.72,156.30 170.97,156.29 171.22,156.26 171.46,156.21 171.71,156.15 171.96,156.08 172.21,155.99 172.46,155.88 172.70,155.77 172.95,155.63 173.20,155.47 173.45,155.08 173.69,154.39 173.94,153.47 174.19,152.37 174.44,151.15 174.68,149.85 174.93,148.53 175.18,147.13 175.43,145.55 175.67,143.78 175.92,141.82 176.17,139.68 176.42,137.34 176.66,134.82 176.91,132.10 177.16,129.13 177.41,125.55 177.65,121.36 177.90,116.65 178.15,111.42 178.40,104.83 178.65,97.60 178.89,90.88 179.14,84.30 179.39,77.87 179.64,71.79 179.88,66.08 180.13,60.29 180.38,55.12 180.63,51.46 180.87,49.10 181.12,47.19 181.37,45.68 181.62,44.47 181.86,43.42 182.11,42.44 182.36,41.57 182.61,40.83 182.85,40.25 183.10,39.87 183.35,39.65 183.60,39.46 183.84,39.28 184.09,39.12 184.34,38.97 184.59,38.84 184.84,38.73 185.08,38.63 185.33,38.56 185.58,38.50 185.83,38.47 186.07,38.45 186.32,38.46 186.57,38.48 186.82,38.53 187.06,38.59 187.31,38.68 187.56,38.78 187.81,38.90 188.05,39.04 188.30,39.20 188.55,39.37 188.80,39.56 189.04,39.76 189.29,40.03 189.54,40.51 189.79,41.18 190.03,41.99 190.28,42.92 190.53,43.94 190.78,45.04 191.03,46.39 191.27,48.09 191.52,50.22 191.77,53.05 192.02,57.58 192.26,63.17 192.51,68.93 192.76,74.78 193.01,81.06 193.25,87.59 193.50,94.17 193.75,101.20 194.00,108.29 194.24,114.12 194.49,119.07 194.74,123.53 194.99,127.42 195.23,130.67 195.48,133.49 195.73,136.11 195.98,138.53 196.22,140.77 196.47,142.82 196.72,144.69 196.97,146.36 197.22,147.86 197.46,149.19 197.71,150.51 197.96,151.77 198.21,152.94 198.45,153.96 198.70,154.77 198.95,155.31 199.20,155.56 199.44,155.70 199.69,155.83 199.94,155.94 200.19,156.04 200.43,156.12 200.68,156.19 200.93,156.24 201.18,156.28 201.42,156.30 201.67,156.30 201.92,156.30 202.17,156.30 202.41,156.30 202.66,156.30 202.91,156.30 203.16,156.30 203.41,156.30 203.65,156.30 203.90,156.30 204.15,156.30 204.40,156.30 204.64,156.30 204.89,156.30 205.14,156.30 205.39,156.30 205.63,156.30 205.88,156.30 206.13,156.30 206.38,156.30 206.62,156.30 206.87,156.30 207.12,156.30 207.37,156.30 207.61,156.30 207.86,156.30 208.11,156.30 208.36,156.30 208.60,156.30 208.85,156.30 209.10,156.30" fill="none" stroke="#177a76" stroke-width="1.9" stroke-linejoin="round" stroke-linecap="butt" />
<polyline points="108.45,144.74 108.70,144.11 108.95,143.43 109.19,142.70 109.44,141.92 109.69,141.09 109.94,140.22 110.18,139.30 110.43,138.36 110.68,137.38 110.93,136.37 111.17,135.34 111.42,134.29 111.67,133.15 111.92,131.92 112.16,130.60 112.41,129.22 112.66,127.79 112.91,126.31 113.16,124.81 113.40,123.29 113.65,121.74 113.90,120.11 114.15,118.41 114.39,116.63 114.64,114.86 114.89,113.04 115.14,111.05 115.38,108.78 115.63,106.01 115.88,102.60 116.13,98.82 116.37,94.95 116.62,91.08 116.87,86.99 117.12,82.52 117.36,77.26 117.61,71.52 117.86,66.21 118.11,61.37 118.35,56.74 118.60,52.90 118.85,50.26 119.10,48.16 119.34,46.44 119.59,45.05 119.84,43.94 120.09,42.92 120.34,41.99 120.58,41.18 120.83,40.51 121.08,40.03 121.33,39.76 121.57,39.56 121.82,39.37 122.07,39.20 122.32,39.04 122.56,38.90 122.81,38.78 123.06,38.68 123.31,38.59 123.55,38.53 123.80,38.48 124.05,38.46 124.30,38.45 124.54,38.47 124.79,38.50 125.04,38.56 125.29,38.63 125.54,38.73 125.78,38.84 126.03,38.97 126.28,39.12 126.53,39.28 126.77,39.46 127.02,39.65 127.27,39.87 127.52,40.25 127.76,40.83 128.01,41.57 128.26,42.44 128.51,43.42 128.75,44.47 129.00,45.68 129.25,47.19 129.50,49.10 129.74,51.46 129.99,55.12 130.24,60.29 130.49,66.08 130.73,71.79 130.98,77.87 131.23,84.30 131.48,90.88 131.73,97.60 131.97,104.83 132.22,111.42 132.47,116.65 132.72,121.36 132.96,125.55 133.21,129.13 133.46,132.10 133.71,134.82 133.95,137.34 134.20,139.68 134.45,141.82 134.70,143.78 134.94,145.55 135.19,147.13 135.44,148.53 135.69,149.85 135.93,151.15 136.18,152.37 136.43,153.47 136.68,154.39 136.92,155.08 137.17,155.47 137.42,155.63 137.67,155.77 137.92,155.88 138.16,155.99 138.41,156.08 138.66,156.15 138.91,156.21 139.15,156.26 139.40,156.29 139.65,156.30 139.90,156.30 140.14,156.28 140.39,156.24 140.64,156.19 140.89,156.12 141.13,156.04 141.38,155.94 141.63,155.83 141.88,155.70 142.12,155.56 142.37,155.31 142.62,154.77 142.87,153.96 143.11,152.94 143.36,151.77 143.61,150.51 143.86,149.19 144.11,147.86 144.35,146.36 144.60,144.69 144.85,142.82 145.10,140.77 145.34,138.53 145.59,136.11 145.84,133.49 146.09,130.67 146.33,127.42 146.58,123.53 146.83,119.07 147.08,114.12 147.32,108.29 147.57,101.20 147.82,94.17 148.07,87.59 148.31,81.06 148.56,74.78 148.81,68.93 149.06,63.17 149.30,57.58 149.55,53.05 149.80,50.22 150.05,48.09 150.30,46.39 150.54,45.04 150.79,43.94 151.04,42.92 151.29,41.99 151.53,41.18 151.78,40.51 152.03,40.03 152.28,39.76 152.52,39.56 152.77,39.37 153.02,39.20 153.27,39.04 153.51,38.90 153.76,38.78 154.01,38.68 154.26,38.59 154.50,38.53 154.75,38.48 155.00,38.46 155.25,38.45 155.49,38.47 155.74,38.52 155.99,38.59 156.24,38.68 156.49,38.80 156.73,38.94 156.98,39.11 157.23,39.29 157.48,39.50 157.72,39.72 157.97,40.02 158.22,40.57 158.47,41.35 158.71,42.30 158.96,43.40 159.21,44.59 159.46,46.05 159.70,47.92 159.95,50.27 160.20,53.16 160.45,56.68 160.69,60.75 160.94,64.95 161.19,69.18 161.44,73.84 161.68,78.42 161.93,82.47 162.18,85.91 162.43,89.02 162.68,91.89 162.92,94.59 163.17,97.20 163.42,100.74 163.67,104.37 163.91,107.48 164.16,109.96 164.41,112.08 164.66,113.97 164.90,115.75 165.15,117.53 165.40,119.27 165.65,120.94 165.89,122.53 166.14,124.05 166.39,125.56 166.64,127.05 166.88,128.51 167.13,129.92 167.38,131.27 167.63,132.55 167.87,133.73 168.12,134.82 168.37,135.86 168.62,136.88 168.87,137.87 169.11,138.84 169.36,139.76 169.61,140.66 169.86,141.51 170.10,142.32 170.35,143.07 170.60,143.78" fill="none" stroke="#c42830" stroke-width="1.9" stroke-linejoin="round" stroke-linecap="butt" stroke-opacity="0.88"/>
<polyline points="246.40,90.95 246.65,85.87 246.89,80.04 247.14,73.98 247.39,68.67 247.64,63.96 247.88,59.49 248.13,55.55 248.38,52.40 248.62,50.14 248.87,48.24 249.12,46.65 249.37,45.35 249.61,44.30 249.86,43.37 250.11,42.51 250.36,41.74 250.60,41.11 250.85,40.64 251.10,40.38 251.34,40.22 251.59,40.06 251.84,39.92 252.09,39.80 252.33,39.68 252.58,39.58 252.83,39.49 253.07,39.41 253.32,39.35 253.57,39.30 253.82,39.26 254.06,39.24 254.31,39.23 254.56,39.25 254.80,39.29 255.05,39.34 255.30,39.41 255.55,39.50 255.79,39.60 256.04,39.72 256.29,39.85 256.54,40.00 256.78,40.17 257.03,40.35 257.28,40.61 257.52,41.12 257.77,41.84 258.02,42.71 258.27,43.70 258.51,44.77 258.76,46.08 259.01,47.73 259.25,49.74 259.50,52.18 259.75,55.65 260.00,60.09 260.24,65.12 260.49,70.44 260.74,76.81 260.98,83.54 261.23,89.45 261.48,94.74 261.73,99.44 261.97,103.73 262.22,107.92 262.47,112.32 262.72,117.21 262.96,122.34 263.21,127.37 263.46,131.96 263.70,135.75 263.95,138.90 264.20,141.77 264.45,144.38 264.69,146.72 264.94,148.79 265.19,150.62 265.43,152.36 265.68,153.95 265.93,155.23 266.18,156.03 266.42,156.51 266.67,156.89 266.92,157.14 267.16,157.20 267.41,157.20 267.66,157.20 267.91,157.20 268.15,157.20 268.40,157.20 268.65,157.20 268.90,157.20 269.14,157.20 269.39,157.20 269.64,157.20 269.88,157.20 270.13,157.20 270.38,157.20 270.63,157.20 270.87,157.20 271.12,157.20 271.37,157.20 271.61,157.20 271.86,157.20 272.11,157.19 272.36,157.04 272.60,156.71 272.85,156.28 273.10,155.70 273.34,154.64 273.59,153.19 273.84,151.50 274.09,149.73 274.33,147.79 274.58,145.58 274.83,143.11 275.08,140.37 275.32,137.36 275.57,133.97 275.82,129.74 276.06,124.89 276.31,119.77 276.56,114.72 276.81,110.07 277.05,105.82 277.30,101.62 277.55,97.16 277.79,92.16 278.04,86.61 278.29,80.21 278.54,73.49 278.78,67.74 279.03,62.56 279.28,57.77 279.52,53.77 279.77,50.90 280.02,48.69 280.27,46.86 280.51,45.38 280.76,44.22 281.01,43.20 281.26,42.26 281.50,41.46 281.75,40.84 282.00,40.45 282.24,40.26 282.49,40.08 282.74,39.93 282.99,39.79 283.23,39.66 283.48,39.55 283.73,39.45 283.97,39.38 284.22,39.31 284.47,39.27 284.72,39.24 284.96,39.23 285.21,39.23 285.46,39.25 285.70,39.29 285.95,39.34 286.20,39.41 286.45,39.50 286.69,39.60 286.94,39.72 287.19,39.85 287.44,40.00 287.68,40.17 287.93,40.35 288.18,40.61 288.42,41.12 288.67,41.84 288.92,42.71 289.17,43.70 289.41,44.77 289.66,46.08 289.91,47.73 290.15,49.74 290.40,52.18 290.65,55.65 290.90,60.09 291.14,65.12 291.39,70.44 291.64,76.81 291.88,83.54 292.13,89.45 292.38,94.74 292.63,99.44 292.87,103.73 293.12,107.92 293.37,112.32 293.62,117.21 293.86,122.34 294.11,127.37 294.36,131.96 294.60,135.75 294.85,138.90 295.10,141.77 295.35,144.38 295.59,146.72 295.84,148.79 296.09,150.62 296.33,152.36 296.58,153.95 296.83,155.23 297.08,156.03 297.32,156.51 297.57,156.89 297.82,157.14 298.06,157.20 298.31,157.20 298.56,157.20 298.81,157.20 299.05,157.20 299.30,157.20 299.55,157.20 299.80,157.20 300.04,157.20 300.29,157.20 300.54,157.20 300.78,157.20 301.03,157.20 301.28,157.20 301.53,157.20 301.77,157.20 302.02,157.20 302.27,157.20 302.51,157.20 302.76,157.20 303.01,157.19 303.26,157.04 303.50,156.71 303.75,156.28 304.00,155.70 304.24,154.64 304.49,153.19 304.74,151.50 304.99,149.73 305.23,147.79 305.48,145.58 305.73,143.11 305.98,140.37 306.22,137.36 306.47,133.97 306.72,129.74 306.96,124.89 307.21,119.77 307.46,114.72 307.71,110.07 307.95,105.82 308.20,101.62 308.45,97.16 308.69,92.16 308.94,86.61 309.19,80.21 309.44,73.49 309.68,67.74 309.93,62.56 310.18,57.77 310.42,53.77 310.67,50.90 310.92,48.69 311.17,46.86 311.41,45.38 311.66,44.22 311.91,43.20 312.16,42.26 312.40,41.46 312.65,40.84 312.90,40.45 313.14,40.26 313.39,40.08 313.64,39.93 313.89,39.79 314.13,39.66 314.38,39.55 314.63,39.45 314.87,39.38 315.12,39.31 315.37,39.27 315.62,39.24 315.86,39.23 316.11,39.23 316.36,39.25 316.60,39.29 316.85,39.34 317.10,39.41 317.35,39.50 317.59,39.60 317.84,39.72 318.09,39.85 318.34,40.00 318.58,40.17 318.83,40.35 319.08,40.61 319.32,41.12 319.57,41.84 319.82,42.71 320.07,43.70 320.31,44.77 320.56,46.08 320.81,47.73 321.05,49.74 321.30,52.18 321.55,55.65 321.80,60.09 322.04,65.12 322.29,70.44 322.54,76.81 322.78,83.54 323.03,89.45 323.28,94.74 323.53,99.44 323.77,103.73 324.02,107.92 324.27,112.32 324.52,117.21 324.76,122.34 325.01,127.37 325.26,131.96 325.50,135.75 325.75,138.90 326.00,141.77 326.25,144.38 326.49,146.72 326.74,148.79 326.99,150.62 327.23,152.36 327.48,153.95 327.73,155.23 327.98,156.03 328.22,156.51 328.47,156.89 328.72,157.14 328.96,157.20 329.21,157.20 329.46,157.20 329.71,157.20 329.95,157.20 330.20,157.20 330.45,157.20 330.70,157.20 330.94,157.20 331.19,157.20 331.44,157.20 331.68,157.20 331.93,157.20 332.18,157.20 332.43,157.20 332.67,157.20 332.92,157.20 333.17,157.20 333.41,157.20 333.66,157.20 333.91,157.19 334.16,157.04 334.40,156.71 334.65,156.28 334.90,155.70 335.14,154.64 335.39,153.19 335.64,151.50 335.89,149.73 336.13,147.79 336.38,145.58 336.63,143.11 336.88,140.37 337.12,137.36 337.37,133.97 337.62,129.74 337.86,124.89 338.11,119.77 338.36,114.72 338.61,110.07 338.85,105.82 339.10,101.62 339.35,97.16 339.59,92.16 339.84,86.61 340.09,80.21 340.34,73.49 340.58,67.74 340.83,62.56 341.08,57.77 341.32,53.77 341.57,50.90 341.82,48.69 342.07,46.86 342.31,45.38 342.56,44.22 342.81,43.20 343.06,42.26 343.30,41.46 343.55,40.84 343.80,40.45 344.04,40.26 344.29,40.08 344.54,39.93 344.79,39.79 345.03,39.66 345.28,39.55 345.53,39.45 345.77,39.38 346.02,39.31 346.27,39.27 346.52,39.24 346.76,39.23 347.01,39.23 347.26,39.25 347.50,39.29 347.75,39.34 348.00,39.41 348.25,39.50 348.49,39.60 348.74,39.72 348.99,39.85 349.24,40.00 349.48,40.17 349.73,40.35 349.98,40.61 350.22,41.12 350.47,41.84 350.72,42.71 350.97,43.70 351.21,44.77 351.46,46.08 351.71,47.73 351.95,49.74 352.20,52.18 352.45,55.65 352.70,60.09 352.94,65.12 353.19,70.44 353.44,76.81 353.68,83.54 353.93,89.45 354.18,94.74 354.43,99.44 354.67,103.73 354.92,107.92 355.17,112.32 355.42,117.21 355.66,122.34 355.91,127.37 356.16,131.96 356.40,135.75 356.65,138.90 356.90,141.77 357.15,144.38 357.39,146.72 357.64,148.79 357.89,150.62 358.13,152.36 358.38,153.95 358.63,155.23 358.88,156.03 359.12,156.51 359.37,156.89 359.62,157.14 359.86,157.20 360.11,157.20 360.36,157.20 360.61,157.20 360.85,157.20 361.10,157.20 361.35,157.20 361.60,157.20 361.84,157.20 362.09,157.20 362.34,157.20 362.58,157.20 362.83,157.20 363.08,157.20 363.33,157.20 363.57,157.20 363.82,157.20 364.07,157.20 364.31,157.20 364.56,157.20 364.81,157.19 365.06,157.04 365.30,156.71 365.55,156.28 365.80,155.70 366.04,154.64 366.29,153.19 366.54,151.50 366.79,149.73 367.03,147.79 367.28,145.58 367.53,143.11 367.78,140.37 368.02,137.36 368.27,133.97 368.52,129.74 368.76,124.89 369.01,119.77 369.26,114.72 369.51,110.07 369.75,105.82 370.00,101.62 370.25,97.16 370.49,92.16 370.74,86.61 370.99,80.21 371.24,73.49 371.48,67.74 371.73,62.56 371.98,57.77 372.22,53.77 372.47,50.90 372.72,48.69 372.97,46.86 373.21,45.38 373.46,44.22 373.71,43.20 373.96,42.26 374.20,41.46 374.45,40.84 374.70,40.45 374.94,40.26 375.19,40.08 375.44,39.93 375.69,39.79 375.93,39.66 376.18,39.55 376.43,39.45 376.67,39.38 376.92,39.31 377.17,39.27 377.42,39.24 377.66,39.23 377.91,39.23 378.16,39.25 378.40,39.29 378.65,39.34 378.90,39.41 379.15,39.50 379.39,39.60 379.64,39.72 379.89,39.85 380.14,40.00 380.38,40.17 380.63,40.35 380.88,40.61 381.12,41.12 381.37,41.84 381.62,42.71 381.87,43.70 382.11,44.77 382.36,46.08 382.61,47.73 382.85,49.74 383.10,52.18 383.35,55.65 383.60,60.09 383.84,65.12 384.09,70.44 384.34,76.81 384.58,83.54 384.83,89.45 385.08,94.74 385.33,99.44 385.57,103.73 385.82,107.92 386.07,112.32 386.32,117.21 386.56,122.34 386.81,127.37 387.06,131.96 387.30,135.75 387.55,138.90 387.80,141.77 388.05,144.38 388.29,146.72 388.54,148.79 388.79,150.62 389.03,152.36 389.28,153.95 389.53,155.23 389.78,156.03 390.02,156.51 390.27,156.89 390.52,157.14 390.76,157.20 391.01,157.20 391.26,157.20 391.51,157.20 391.75,157.20 392.00,157.20 392.25,157.20 392.50,157.20 392.74,157.20 392.99,157.20 393.24,157.20 393.48,157.20 393.73,157.20 393.98,157.20 394.23,157.20 394.47,157.20 394.72,157.20 394.97,157.20 395.21,157.20 395.46,157.20 395.71,157.19 395.96,157.04 396.20,156.71 396.45,156.28 396.70,155.70 396.94,154.64 397.19,153.19 397.44,151.50 397.69,149.73 397.93,147.79 398.18,145.58 398.43,143.11 398.68,140.37 398.92,137.36 399.17,133.97 399.42,129.74 399.66,124.89 399.91,119.77 400.16,114.72 400.41,110.07 400.65,105.82 400.90,101.62 401.15,97.16 401.39,92.16 401.64,86.61 401.89,80.21 402.14,73.49 402.38,67.74 402.63,62.56 402.88,57.77 403.12,53.77 403.37,50.90 403.62,48.69 403.87,46.86 404.11,45.38 404.36,44.22 404.61,43.20 404.86,42.26 405.10,41.46 405.35,40.84 405.60,40.45 405.84,40.26 406.09,40.08 406.34,39.93 406.59,39.79 406.83,39.66 407.08,39.55 407.33,39.45 407.57,39.38 407.82,39.31 408.07,39.27 408.32,39.24 408.56,39.23 408.81,39.23 409.06,39.25 409.30,39.29 409.55,39.34 409.80,39.41 410.05,39.50 410.29,39.60 410.54,39.72 410.79,39.85 411.04,40.00 411.28,40.17 411.53,40.35 411.78,40.61 412.02,41.12 412.27,41.84 412.52,42.71 412.77,43.70 413.01,44.77 413.26,46.08 413.51,47.73 413.75,49.74 414.00,52.18 414.25,55.65 414.50,60.09 414.74,65.12 414.99,70.44 415.24,76.81 415.48,83.54 415.73,89.45 415.98,94.74 416.23,99.44 416.47,103.73 416.72,107.92 416.97,112.32 417.22,117.21 417.46,122.34 417.71,127.37 417.96,131.96 418.20,135.75 418.45,138.90 418.70,141.77 418.95,144.38 419.19,146.72 419.44,148.79 419.69,150.62 419.93,152.36 420.18,153.95 420.43,155.23 420.68,156.03 420.92,156.51 421.17,156.89 421.42,157.14 421.66,157.20 421.91,157.20 422.16,157.20 422.41,157.20 422.65,157.20 422.90,157.20 423.15,157.20 423.40,157.20 423.64,157.20 423.89,157.20 424.14,157.20 424.38,157.20 424.63,157.20 424.88,157.20 425.13,157.20 425.37,157.20 425.62,157.20 425.87,157.20 426.11,157.20 426.36,157.20 426.61,157.20 426.86,157.20 427.10,157.20 427.35,157.20 427.60,157.20 427.84,157.20 428.09,157.20 428.34,157.20 428.59,157.20 428.83,157.20 429.08,157.20 429.33,157.20 429.58,157.20 429.82,157.20 430.07,157.20 430.32,157.20 430.56,157.20 430.81,157.20 431.06,157.20 431.31,157.20 431.55,157.20 431.80,157.20" fill="none" stroke="#177a76" stroke-width="1.9" stroke-linejoin="round" stroke-linecap="butt" />
<polyline points="306.0,136.5 306.6,144.5" fill="none" stroke="#177a76" stroke-width="1.5"/>
<polyline points="278.3,104 277.6,110.5 277.0,116" fill="none" stroke="#177a76" stroke-width="1.3"/>
<polyline points="331.68,143.92 331.93,143.15 332.18,142.34 332.43,141.49 332.67,140.59 332.92,139.66 333.17,138.69 333.41,137.69 333.66,136.67 333.91,135.62 334.16,134.53 334.40,133.34 334.65,132.06 334.90,130.71 335.14,129.29 335.39,127.82 335.64,126.33 335.89,124.81 336.13,123.28 336.38,121.68 336.63,120.01 336.88,118.26 337.12,116.47 337.37,114.68 337.62,112.78 337.86,110.66 338.11,108.17 338.36,105.04 338.61,101.39 338.85,97.52 339.10,93.65 339.35,89.67 339.59,85.40 339.84,80.58 340.09,74.93 340.34,69.27 340.58,64.29 340.83,59.46 341.08,55.14 341.32,51.90 341.57,49.60 341.82,47.68 342.07,46.12 342.31,44.88 342.56,43.82 342.81,42.84 343.06,41.96 343.30,41.22 343.55,40.64 343.80,40.26 344.04,40.04 344.29,39.85 344.54,39.67 344.79,39.50 345.03,39.36 345.28,39.23 345.53,39.11 345.77,39.02 346.02,38.94 346.27,38.89 346.52,38.85 346.76,38.84 347.01,39.23 347.26,39.25 347.50,39.29 347.75,39.34 348.00,39.41 348.25,39.50 348.49,39.60 348.74,39.72 348.99,39.85 349.24,40.00 349.48,40.17 349.73,40.35 349.98,40.61 350.22,41.12 350.47,41.84 350.72,42.71 350.97,43.70 351.21,44.77 351.46,46.08 351.71,47.73 351.95,49.74 352.20,52.18 352.45,55.65 352.70,60.09 352.94,65.12 353.19,70.44 353.44,76.81 353.68,83.54 353.93,89.45 354.18,94.74 354.43,99.44 354.67,103.73 354.92,107.92 355.17,112.32 355.42,117.21 355.66,122.34 355.91,127.37 356.16,131.96 356.40,135.75 356.65,138.90 356.90,141.77 357.15,144.38 357.39,146.72 357.64,148.79 357.89,150.62 358.13,152.36 358.38,153.95 358.63,155.23 358.88,156.03 359.12,156.51 359.37,156.89 359.62,157.14 359.86,157.20 360.11,157.20 360.36,157.20 360.61,157.20 360.85,157.20 361.10,157.20 361.35,157.20 361.60,157.20 361.84,157.20 362.09,157.20 362.34,157.20 362.58,157.20 362.83,157.20 363.08,157.20 363.33,157.20 363.57,157.20 363.82,157.20 364.07,157.20 364.31,157.20 364.56,157.20 364.81,157.19 365.06,157.04 365.30,156.71 365.55,156.28 365.80,155.70 366.04,154.64 366.29,153.19 366.54,151.50 366.79,149.73 367.03,147.79 367.28,145.58 367.53,143.11 367.78,140.37 368.02,137.36 368.27,133.97 368.52,129.74 368.76,124.89 369.01,119.77 369.26,114.72 369.51,110.07 369.75,105.82 370.00,101.62 370.25,97.16 370.49,92.16 370.74,86.61 370.99,80.21 371.24,73.49 371.48,67.74 371.73,62.56 371.98,57.77 372.22,53.77 372.47,50.90 372.72,48.69 372.97,46.86 373.21,45.38 373.46,44.22 373.71,43.20 373.96,42.26 374.20,41.46 374.45,40.84 374.70,40.45 374.94,40.26 375.19,40.08 375.44,39.93 375.69,39.79 375.93,39.66 376.18,39.55 376.43,39.45 376.67,39.38 376.92,39.31 377.17,39.27 377.42,39.24 377.66,39.23 377.91,38.84 378.16,38.87 378.40,38.91 378.65,38.98 378.90,39.06 379.15,39.17 379.39,39.29 379.64,39.43 379.89,39.58 380.14,39.76 380.38,39.94 380.63,40.15 380.88,40.42 381.12,40.91 381.37,41.57 381.62,42.39 381.87,43.32 382.11,44.35 382.36,45.46 382.61,46.85 382.85,48.59 383.10,50.70 383.35,53.35 383.60,57.20 383.84,61.85 384.09,66.72 384.34,72.04 384.58,77.82 384.83,83.10 385.08,87.58 385.33,91.69 385.57,95.58 385.82,99.47 386.07,103.26 386.32,106.69 386.56,109.47 386.81,111.75 387.06,113.75 387.30,115.58 387.55,117.36 387.80,119.14 388.05,120.86 388.29,122.49 388.54,124.05 388.79,125.57 389.03,127.08 389.28,128.56 389.53,130.00 389.78,131.39 390.02,132.71 390.27,133.95 390.52,135.09 390.76,136.15 391.01,137.19 391.26,138.20 391.51,139.18 391.75,140.13 392.00,141.05 392.25,141.92 392.50,142.75 392.74,143.54 392.99,144.28 393.24,144.96 393.48,145.59 393.73,146.15" fill="none" stroke="#c42830" stroke-width="1.9" stroke-linejoin="round" stroke-linecap="butt" stroke-opacity="0.88"/>
<polyline points="468.50,39.22 468.75,39.25 469.00,39.34 469.24,39.48 469.49,39.67 469.74,39.90 469.99,40.17 470.24,40.48 470.48,40.81 470.73,41.18 470.98,41.56 471.23,42.08 471.48,42.82 471.72,43.76 471.97,44.84 472.22,46.06 472.47,47.37 472.72,48.75 472.96,50.42 473.21,52.41 473.46,54.63 473.71,57.01 473.96,59.62 474.20,62.57 474.45,65.98 474.70,70.28 474.95,75.82 475.20,81.60 475.44,86.57 475.69,90.74 475.94,94.80 476.19,98.81 476.44,102.92 476.68,107.91 476.93,115.16 477.18,123.18 477.43,129.60 477.68,133.34 477.92,136.41 478.17,139.02 478.42,141.26 478.67,143.23 478.92,145.03 479.16,146.73 479.41,148.31 479.66,149.77 479.91,151.08 480.16,152.25 480.40,153.27 480.65,154.17 480.90,155.05 481.15,155.79 481.40,156.29 481.64,156.50 481.89,156.64 482.14,156.76 482.39,156.87 482.64,156.97 482.88,157.04 483.13,157.11 483.38,157.15 483.63,157.18 483.88,157.20 484.12,157.20 484.37,157.18 484.62,157.15 484.87,157.11 485.12,157.04 485.36,156.97 485.61,156.87 485.86,156.76 486.11,156.64 486.36,156.50 486.60,156.29 486.85,155.79 487.10,155.05 487.35,154.17 487.60,153.27 487.84,152.25 488.09,151.08 488.34,149.77 488.59,148.31 488.84,146.73 489.08,145.03 489.33,143.23 489.58,141.26 489.83,139.02 490.08,136.41 490.32,133.34 490.57,129.60 490.82,123.18 491.07,115.16 491.32,107.91 491.56,102.92 491.81,98.81 492.06,94.80 492.31,90.74 492.56,86.57 492.80,81.60 493.05,75.82 493.30,70.28 493.55,65.98 493.80,62.57 494.04,59.62 494.29,57.01 494.54,54.63 494.79,52.41 495.04,50.42 495.28,48.75 495.53,47.37 495.78,46.06 496.03,44.84 496.28,43.76 496.52,42.82 496.77,42.08 497.02,41.57 497.27,41.18 497.52,40.81 497.76,40.48 498.01,40.17 498.26,39.90 498.51,39.67 498.76,39.48 499.00,39.34 499.25,39.25 499.50,39.22 499.75,39.25 500.00,39.34 500.24,39.48 500.49,39.67 500.74,39.90 500.99,40.17 501.24,40.48 501.48,40.81 501.73,41.18 501.98,41.56 502.23,42.08 502.48,42.82 502.72,43.76 502.97,44.84 503.22,46.06 503.47,47.37 503.72,48.75 503.96,50.42 504.21,52.41 504.46,54.63 504.71,57.01 504.96,59.62 505.20,62.57 505.45,65.98 505.70,70.28 505.95,75.82 506.20,81.60 506.44,86.57 506.69,90.74 506.94,94.80 507.19,98.81 507.44,102.92 507.68,107.91 507.93,115.16 508.18,123.18 508.43,129.60 508.68,133.34 508.92,136.41 509.17,139.02 509.42,141.26 509.67,143.23 509.92,145.03 510.16,146.73 510.41,148.31 510.66,149.77 510.91,151.08 511.16,152.25 511.40,153.27 511.65,154.17 511.90,155.05 512.15,155.79 512.40,156.29 512.64,156.50 512.89,156.64 513.14,156.76 513.39,156.87 513.64,156.97 513.88,157.04 514.13,157.11 514.38,157.15 514.63,157.18 514.88,157.20 515.12,157.20 515.37,157.18 515.62,157.15 515.87,157.11 516.12,157.04 516.36,156.97 516.61,156.87 516.86,156.76 517.11,156.64 517.36,156.50 517.60,156.29 517.85,155.79 518.10,155.05 518.35,154.17 518.60,153.27 518.84,152.25 519.09,151.08 519.34,149.77 519.59,148.31 519.84,146.73 520.08,145.03 520.33,143.23 520.58,141.26 520.83,139.02 521.08,136.41 521.32,133.34 521.57,129.60 521.82,123.18 522.07,115.16 522.32,107.91 522.56,102.92 522.81,98.81 523.06,94.80 523.31,90.74 523.56,86.57 523.80,81.60 524.05,75.82 524.30,70.28 524.55,65.98 524.80,62.57 525.04,59.62 525.29,57.01 525.54,54.63 525.79,52.41 526.04,50.42 526.28,48.75 526.53,47.37 526.78,46.06 527.03,44.84 527.28,43.76 527.52,42.82 527.77,42.08 528.02,41.57 528.27,41.18 528.52,40.81 528.76,40.48 529.01,40.17 529.26,39.90 529.51,39.67 529.76,39.48 530.00,39.34 530.25,39.25 530.50,39.22 530.75,39.25 531.00,39.34 531.24,39.48 531.49,39.67 531.74,39.90 531.99,40.17 532.24,40.48 532.48,40.81 532.73,41.18 532.98,41.56 533.23,42.08 533.48,42.82 533.72,43.76 533.97,44.84 534.22,46.06 534.47,47.37 534.72,48.75 534.96,50.42 535.21,52.41 535.46,54.63 535.71,57.01 535.96,59.62 536.20,62.57 536.45,65.98 536.70,70.28 536.95,75.82 537.20,81.60 537.44,86.57 537.69,90.74 537.94,94.80 538.19,98.81 538.44,102.92 538.68,107.91 538.93,115.16 539.18,123.18 539.43,129.60 539.68,133.34 539.92,136.41 540.17,139.02 540.42,141.26 540.67,143.23 540.92,145.03 541.16,146.73 541.41,148.31 541.66,149.77 541.91,151.08 542.16,152.25 542.40,153.27 542.65,154.17 542.90,155.05 543.15,155.79 543.40,156.29 543.64,156.50 543.89,156.64 544.14,156.76 544.39,156.87 544.64,156.97 544.88,157.04 545.13,157.11 545.38,157.15 545.63,157.18 545.88,157.20 546.12,157.20 546.37,157.18 546.62,157.15 546.87,157.11 547.12,157.04 547.36,156.97 547.61,156.87 547.86,156.76 548.11,156.64 548.36,156.50 548.60,156.29 548.85,155.79 549.10,155.05 549.35,154.17 549.60,153.27 549.84,152.25 550.09,151.08 550.34,149.77 550.59,148.31 550.84,146.73 551.08,145.03 551.33,143.23 551.58,141.26 551.83,139.02 552.08,136.41 552.32,133.34 552.57,129.60 552.82,123.18 553.07,115.16 553.32,107.91 553.56,102.92 553.81,98.81 554.06,94.80 554.31,90.74 554.56,86.57 554.80,81.60 555.05,75.82 555.30,70.28 555.55,65.98 555.80,62.57 556.04,59.62 556.29,57.01 556.54,54.63 556.79,52.41 557.04,50.42 557.28,48.75 557.53,47.37 557.78,46.06 558.03,44.84 558.28,43.76 558.52,42.82 558.77,42.08 559.02,41.57 559.27,41.18 559.52,40.81 559.76,40.48 560.01,40.17 560.26,39.90 560.51,39.67 560.76,39.48 561.00,39.34 561.25,39.25 561.50,39.22 561.75,39.25 562.00,39.34 562.24,39.48 562.49,39.67 562.74,39.90 562.99,40.17 563.24,40.48 563.48,40.81 563.73,41.18 563.98,41.56 564.23,42.08 564.48,42.82 564.72,43.76 564.97,44.84 565.22,46.06 565.47,47.37 565.72,48.75 565.96,50.42 566.21,52.41 566.46,54.63 566.71,57.01 566.96,59.62 567.20,62.57 567.45,65.98 567.70,70.28 567.95,75.82 568.20,81.60 568.44,86.57 568.69,90.74 568.94,94.80 569.19,98.81 569.44,102.92 569.68,107.91 569.93,115.16 570.18,123.18 570.43,129.60 570.68,133.34 570.92,136.41 571.17,139.02 571.42,141.26 571.67,143.23 571.92,145.03 572.16,146.73 572.41,148.31 572.66,149.77 572.91,151.08 573.16,152.25 573.40,153.27 573.65,154.17 573.90,155.05 574.15,155.79 574.40,156.29 574.64,156.50 574.89,156.64 575.14,156.76 575.39,156.87 575.64,156.97 575.88,157.04 576.13,157.11 576.38,157.15 576.63,157.18 576.88,157.20 577.12,157.20 577.37,157.18 577.62,157.15 577.87,157.11 578.12,157.04 578.36,156.97 578.61,156.87 578.86,156.76 579.11,156.64 579.36,156.50 579.60,156.29 579.85,155.79 580.10,155.05 580.35,154.17 580.60,153.27 580.84,152.25 581.09,151.08 581.34,149.77 581.59,148.31 581.84,146.73 582.08,145.03 582.33,143.23 582.58,141.26 582.83,139.02 583.08,136.41 583.32,133.34 583.57,129.60 583.82,123.18 584.07,115.16 584.32,107.91 584.56,102.92 584.81,98.81 585.06,94.80 585.31,90.74 585.56,86.57 585.80,81.60 586.05,75.82 586.30,70.28 586.55,65.98 586.80,62.57 587.04,59.62 587.29,57.01 587.54,54.63 587.79,52.41 588.04,50.42 588.28,48.75 588.53,47.37 588.78,46.06 589.03,44.84 589.28,43.76 589.52,42.82 589.77,42.08 590.02,41.57 590.27,41.18 590.52,40.81 590.76,40.48 591.01,40.17 591.26,39.90 591.51,39.67 591.76,39.48 592.00,39.34 592.25,39.25 592.50,39.22 592.75,39.25 593.00,39.34 593.24,39.48 593.49,39.67 593.74,39.90 593.99,40.17 594.24,40.48 594.48,40.81 594.73,41.18 594.98,41.56 595.23,42.08 595.48,42.82 595.72,43.76 595.97,44.84 596.22,46.06 596.47,47.37 596.72,48.75 596.96,50.42 597.21,52.41 597.46,54.63 597.71,57.01 597.96,59.62 598.20,62.57 598.45,65.98 598.70,70.28 598.95,75.82 599.20,81.60 599.44,86.57 599.69,90.74 599.94,94.80 600.19,98.81 600.44,102.92 600.68,107.91 600.93,115.16 601.18,123.18 601.43,129.60 601.68,133.34 601.92,136.41 602.17,139.02 602.42,141.26 602.67,143.23 602.92,145.03 603.16,146.73 603.41,148.31 603.66,149.77 603.91,151.08 604.16,152.25 604.40,153.27 604.65,154.17 604.90,155.05 605.15,155.79 605.40,156.29 605.64,156.50 605.89,156.64 606.14,156.76 606.39,156.87 606.64,156.97 606.88,157.04 607.13,157.11 607.38,157.15 607.63,157.18 607.88,157.20 608.12,157.20 608.37,157.18 608.62,157.15 608.87,157.11 609.12,157.04 609.36,156.97 609.61,156.87 609.86,156.76 610.11,156.64 610.36,156.50 610.60,156.29 610.85,155.79 611.10,155.05 611.35,154.17 611.60,153.27 611.84,152.25 612.09,151.08 612.34,149.77 612.59,148.31 612.84,146.73 613.08,145.03 613.33,143.23 613.58,141.26 613.83,139.02 614.08,136.41 614.32,133.34 614.57,129.60 614.82,123.18 615.07,115.16 615.32,107.91 615.56,102.92 615.81,98.81 616.06,94.80 616.31,90.74 616.56,86.57 616.80,81.60 617.05,75.82 617.30,70.28 617.55,65.98 617.80,62.57 618.04,59.62 618.29,57.01 618.54,54.63 618.79,52.41 619.04,50.42 619.28,48.75 619.53,47.37 619.78,46.06 620.03,44.84 620.28,43.76 620.52,42.82 620.77,42.08 621.02,41.57 621.27,41.18 621.52,40.81 621.76,40.48 622.01,40.17 622.26,39.90 622.51,39.67 622.76,39.48 623.00,39.34 623.25,39.25 623.50,39.22 623.75,39.25 624.00,39.34 624.24,39.48 624.49,39.67 624.74,39.90 624.99,40.17 625.24,40.48 625.48,40.81 625.73,41.18 625.98,41.56 626.23,42.08 626.48,42.82 626.72,43.76 626.97,44.84 627.22,46.06 627.47,47.37 627.72,48.75 627.96,50.42 628.21,52.41 628.46,54.63 628.71,57.01 628.96,59.62 629.20,62.57 629.45,65.98 629.70,70.28 629.95,75.82 630.20,81.60 630.44,86.57 630.69,90.74 630.94,94.80 631.19,98.81 631.44,102.92 631.68,107.91 631.93,115.16 632.18,123.18 632.43,129.60 632.68,133.34 632.92,136.41 633.17,139.02 633.42,141.26 633.67,143.23 633.92,145.03 634.16,146.73 634.41,148.31 634.66,149.77 634.91,151.08 635.16,152.25 635.40,153.27 635.65,154.17 635.90,155.05 636.15,155.79 636.40,156.29 636.64,156.50 636.89,156.64 637.14,156.76 637.39,156.87 637.64,156.97 637.88,157.04 638.13,157.11 638.38,157.15 638.63,157.18 638.88,157.20 639.12,157.20 639.37,157.18 639.62,157.15 639.87,157.11 640.12,157.04 640.36,156.97 640.61,156.87 640.86,156.76 641.11,156.64 641.36,156.50 641.60,156.29 641.85,155.79 642.10,155.05 642.35,154.17 642.60,153.27 642.84,152.25 643.09,151.08 643.34,149.77 643.59,148.31 643.84,146.73 644.08,145.03 644.33,143.23 644.58,141.26 644.83,139.02 645.08,136.41 645.32,133.34 645.57,129.60 645.82,123.18 646.07,115.16 646.32,107.91 646.56,102.92 646.81,98.81 647.06,94.80 647.31,90.74 647.56,86.57 647.80,81.60 648.05,75.82 648.30,70.28 648.55,65.98 648.80,62.57 649.04,59.62 649.29,57.01 649.54,54.63 649.79,52.41 650.04,50.42 650.28,48.75 650.53,47.37 650.78,46.06 651.03,44.84 651.28,43.76 651.52,42.82 651.77,42.08 652.02,41.57 652.27,41.18 652.52,40.81 652.76,40.48 653.01,40.17 653.26,39.90 653.51,39.67 653.76,39.48 654.00,39.34 654.25,39.25 654.50,39.22" fill="none" stroke="#177a76" stroke-width="1.9" stroke-linejoin="round" stroke-linecap="butt" />
<polyline points="524.92,61.05 525.17,58.28 525.42,55.80 525.66,53.49 525.91,51.38 526.16,49.54 526.41,48.05 526.66,46.70 526.90,45.44 527.15,44.28 527.40,43.27 527.65,42.43 527.90,41.79 528.14,41.37 528.39,40.99 528.64,40.64 528.89,40.32 529.14,40.03 529.38,39.78 529.63,39.57 529.88,39.40 530.13,39.29 530.38,39.23 530.62,39.23 530.87,39.29 531.12,39.40 531.37,39.57 531.62,39.78 531.86,40.03 532.11,40.32 532.36,40.64 532.61,40.99 532.86,41.37 533.10,41.79 533.35,42.43 533.60,43.27 533.85,44.28 534.10,45.44 534.34,46.70 534.59,48.05 534.84,49.54 535.09,51.38 535.34,53.49 535.58,55.80 535.83,58.28 536.08,61.05 536.33,64.21 536.58,67.93 536.82,72.96 537.07,78.75 537.32,84.24 537.57,88.71 537.82,92.75 538.06,96.84 538.31,100.81 538.56,105.24 538.81,111.29 539.06,119.22 539.30,126.74 539.55,131.60 539.80,134.94 540.05,137.76 540.30,140.18 540.54,142.28 540.79,144.15 541.04,145.89 541.29,147.54 541.54,149.06 541.78,150.44 542.03,151.69 542.28,152.78 542.53,153.72 542.78,154.62 543.02,155.44 543.27,156.08 543.52,156.42 543.77,156.57 544.02,156.70 544.26,156.82 544.51,156.92 544.76,157.01 545.01,157.08 545.26,157.13 545.50,157.17 545.75,157.19 546.00,157.20 546.25,157.19 546.50,157.17 546.74,157.13 546.99,157.08 547.24,157.01 547.49,156.92 547.74,156.82 547.98,156.70 548.23,156.57 548.48,156.42 548.73,156.08 548.98,155.44 549.22,154.62 549.47,153.72 549.72,152.78 549.97,151.69 550.22,150.44 550.46,149.06 550.71,147.54 550.96,145.89 551.21,144.15 551.46,142.28 551.70,140.18 551.95,137.76 552.20,134.94 552.45,131.60 552.70,126.74 552.94,119.22 553.19,111.29 553.44,105.24 553.69,100.81 553.94,96.84 554.18,92.75 554.43,88.71 554.68,84.24 554.93,78.75 555.18,72.96 555.42,67.93 555.67,64.21 555.92,61.05 556.17,58.28 556.42,55.80 556.66,53.49 556.91,51.38 557.16,49.54 557.41,48.05 557.66,46.70 557.90,45.44 558.15,44.28 558.40,43.27 558.65,42.43 558.90,41.79 559.14,41.37 559.39,40.99 559.64,40.64 559.89,40.32 560.14,40.03 560.38,39.78 560.63,39.57 560.88,39.40 561.13,39.29 561.38,39.23 561.62,39.23 561.87,39.29 562.12,39.40 562.37,39.57 562.62,39.78 562.86,40.03 563.11,40.32 563.36,40.64 563.61,40.99 563.86,41.37 564.10,41.79 564.35,42.43 564.60,43.27 564.85,44.28 565.10,45.44 565.34,46.70 565.59,48.05 565.84,49.54 566.09,51.38 566.34,53.49 566.58,55.80 566.83,58.28 567.08,61.05 567.33,64.21 567.58,67.93 567.82,72.96 568.07,78.75 568.32,84.24 568.57,88.71 568.82,92.75 569.06,96.84 569.31,100.81 569.56,105.24 569.81,111.29 570.06,119.22 570.30,126.74 570.55,131.60 570.80,134.94 571.05,137.76 571.30,140.18 571.54,142.28 571.79,144.15 572.04,145.89 572.29,147.54 572.54,149.06 572.78,150.44 573.03,151.69 573.28,152.78 573.53,153.72 573.78,154.62 574.02,155.44 574.27,156.08 574.52,156.42 574.77,156.57 575.02,156.70 575.26,156.82 575.51,156.92 575.76,157.01 576.01,157.08 576.26,157.13 576.50,157.17 576.75,157.19 577.00,157.20 577.25,157.19 577.50,157.17 577.74,157.13 577.99,157.08 578.24,157.01 578.49,156.92 578.74,156.82 578.98,156.70 579.23,156.57 579.48,156.42 579.73,156.08 579.98,155.44 580.22,154.62 580.47,153.72 580.72,152.78 580.97,151.69 581.22,150.44 581.46,149.06 581.71,147.54 581.96,145.89 582.21,144.15 582.46,142.28 582.70,140.18 582.95,137.76 583.20,134.94 583.45,131.60 583.70,126.74 583.94,119.22 584.19,111.29 584.44,105.24 584.69,100.81 584.94,96.84 585.18,92.75 585.43,88.71 585.68,84.24 585.93,78.75 586.18,72.96 586.42,67.93 586.67,64.21 586.92,61.05 587.17,58.28 587.42,55.80 587.66,53.49 587.91,51.38 588.16,49.54 588.41,48.05 588.66,46.70 588.90,45.44 589.15,44.28 589.40,43.27 589.65,42.43 589.90,41.79 590.14,41.37 590.39,40.99 590.64,40.64 590.89,40.32 591.14,40.03 591.38,39.78 591.63,39.57 591.88,39.40 592.13,39.29 592.38,39.23 592.62,39.23 592.87,39.29 593.12,39.40 593.37,39.57 593.62,39.78 593.86,40.03 594.11,40.32 594.36,40.64 594.61,40.99 594.86,41.37 595.10,41.79 595.35,42.43 595.60,43.27 595.85,44.28 596.10,45.44 596.34,46.70 596.59,48.05 596.84,49.54 597.09,51.38 597.34,53.49 597.58,55.80 597.83,58.28 598.08,61.05" fill="none" stroke="#c42830" stroke-width="1.9" stroke-linejoin="round" stroke-linecap="butt" stroke-opacity="0.88"/>
<polyline points="491.4,79.5 491.6,100.5" fill="none" stroke="#177a76" stroke-width="1.6"/>
<polyline points="493.2,68 492.3,71 492.5,76" fill="none" stroke="#177a76" stroke-width="1.2"/>
<polyline points="22.40,275.69 22.65,270.46 22.90,265.67 23.16,261.29 23.41,257.30 23.66,253.67 23.91,250.39 24.16,247.44 24.41,244.79 24.67,242.42 24.92,240.31 25.17,238.45 25.42,236.82 25.67,235.39 25.93,234.16 26.18,233.10 26.43,232.20 26.68,231.45 26.93,230.82 27.19,230.30 27.44,229.89 27.69,229.56 27.94,229.31 28.19,229.12 28.44,228.99 28.70,228.89 28.95,228.83 29.20,228.79 29.45,228.77 29.70,228.77 29.96,228.76 30.21,228.76 30.46,228.76 30.71,228.77 30.97,228.78 31.22,228.80 31.47,228.85 31.73,228.93 31.98,229.05 32.23,229.23 32.49,229.47 32.74,229.80 32.99,230.22 33.25,230.76 33.50,231.42 33.75,232.23 34.01,233.21 34.26,234.38 34.51,235.74 34.77,237.34 35.02,239.18 35.27,241.29 35.53,243.70 35.78,246.42 36.03,249.49 36.29,252.92 36.54,256.74 36.79,260.99 37.05,265.67 37.30,270.84 37.55,276.50 37.81,282.70 38.06,289.46 38.31,296.81 38.57,304.78 38.82,313.40 39.07,309.38 39.32,305.84 39.57,302.74 39.82,300.04 40.07,297.71 40.32,295.71 40.57,294.01 40.82,292.56 41.07,291.36 41.32,290.36 41.57,289.54 41.82,288.88 42.07,288.35 42.32,287.94 42.57,287.62 42.83,287.39 43.08,287.22 43.33,287.10 43.58,287.02 43.83,286.97 44.08,286.94 44.33,286.92 44.58,286.91 44.83,286.91 45.08,286.91 45.33,286.91 45.58,286.91 45.82,286.91 46.07,286.91 46.32,286.92 46.57,286.92 46.81,286.94 47.06,286.97 47.31,287.01 47.56,287.08 47.81,287.17 48.05,287.30 48.30,287.47 48.55,287.70 48.80,287.99 49.05,288.35 49.29,288.80 49.54,289.35 49.79,290.01 50.04,290.80 50.28,291.74 50.53,292.83 50.78,294.11 51.03,295.59 51.28,297.29 51.52,299.23 51.77,301.43 52.02,303.93 52.27,306.74 52.52,309.89 52.76,313.40 53.02,306.20 53.27,299.54 53.52,293.39 53.78,287.75 54.03,282.57 54.28,277.84 54.54,273.52 54.79,269.61 55.04,266.06 55.30,262.87 55.55,260.00 55.80,257.44 56.06,255.16 56.31,253.15 56.56,251.39 56.82,249.85 57.07,248.52 57.32,247.37 57.58,246.40 57.83,245.58 58.08,244.90 58.34,244.35 58.59,243.90 58.84,243.55 59.10,243.27 59.35,243.07 59.60,242.92 59.86,242.82 60.11,242.75 60.36,242.72 60.62,242.69 60.87,242.69 61.12,242.68 61.38,242.68 61.63,242.68 61.88,242.69 62.13,242.70 62.38,242.72 62.63,242.76 62.89,242.83 63.14,242.93 63.39,243.09 63.64,243.30 63.89,243.59 64.14,243.95 64.40,244.42 64.65,245.00 64.90,245.71 65.15,246.57 65.40,247.58 65.65,248.77 65.90,250.17 66.16,251.77 66.41,253.62 66.66,255.72 66.91,258.09 67.16,260.77 67.41,263.76 67.66,267.10 67.92,270.80 68.17,274.89 68.42,279.40 68.67,284.34 68.92,289.75 69.17,295.65 69.43,302.06 69.68,309.02 69.93,316.54 70.18,311.90 70.42,307.80 70.67,304.19 70.92,301.03 71.17,298.28 71.42,295.91 71.66,293.86 71.91,292.13 72.16,290.66 72.41,289.42 72.65,288.41 72.90,287.57 73.15,286.90 73.40,286.36 73.65,285.94 73.89,285.62 74.14,285.38 74.39,285.20 74.64,285.08 74.89,285.00 75.13,284.95 75.38,284.92 75.63,284.90 75.88,284.89 76.13,284.89 76.37,284.89 76.62,284.89 76.87,284.89 77.12,284.89 77.37,284.89 77.62,284.90 77.87,284.91 78.12,284.93 78.37,284.97 78.62,285.04 78.87,285.13 79.12,285.26 79.37,285.44 79.62,285.69 79.87,286.01 80.12,286.42 80.37,286.93 80.62,287.57 80.87,288.34 81.12,289.28 81.37,290.40 81.62,291.73 81.87,293.28 82.12,295.09 82.37,297.19 82.62,299.59 82.87,302.34 83.12,305.47 83.37,309.00 83.62,312.98 83.87,317.44 84.13,309.39 84.38,301.97 84.64,295.14 84.89,288.88 85.15,283.16 85.40,277.95 85.66,273.21 85.91,268.92 86.17,265.06 86.42,261.60 86.68,258.50 86.94,255.75 87.19,253.32 87.45,251.19 87.70,249.32 87.96,247.71 88.21,246.33 88.47,245.16 88.72,244.17 88.98,243.35 89.23,242.68 89.49,242.13 89.74,241.71 90.00,241.38 90.26,241.13 90.51,240.95 90.77,240.83 91.02,240.75 91.28,240.70 91.53,240.68 91.79,240.67 92.04,240.66 92.30,240.66 92.55,240.66 92.80,240.67 93.05,240.68 93.30,240.71 93.55,240.76 93.80,240.85 94.05,240.98 94.30,241.18 94.55,241.45 94.80,241.82 95.05,242.29 95.30,242.88 95.55,243.63 95.80,244.53 96.05,245.62 96.30,246.92 96.55,248.45 96.79,250.23 97.04,252.28 97.29,254.64 97.54,257.32 97.79,260.36 98.04,263.77 98.29,267.60 98.54,271.86 98.79,276.60 99.04,281.83 99.29,287.58 99.54,293.90 99.79,300.81 100.04,308.35 100.29,316.54 100.55,311.52 100.80,307.06 101.06,303.11 101.31,299.64 101.56,296.60 101.82,293.96 102.07,291.67 102.33,289.71 102.58,288.03 102.84,286.62 103.09,285.44 103.35,284.45 103.60,283.65 103.86,283.00 104.11,282.49 104.36,282.08 104.62,281.77 104.87,281.54 105.13,281.37 105.38,281.26 105.64,281.18 105.89,281.13 106.15,281.10 106.40,281.08 106.65,281.08 106.91,281.07 107.16,281.07 107.42,281.07 107.67,281.07 107.91,281.07 108.16,281.08 108.41,281.08 108.66,281.10 108.91,281.12 109.15,281.17 109.40,281.24 109.65,281.34 109.90,281.49 110.14,281.69 110.39,281.97 110.64,282.32 110.89,282.78 111.14,283.35 111.38,284.07 111.63,284.93 111.88,285.98 112.13,287.23 112.38,288.71 112.62,290.45 112.87,292.47 113.12,294.81 113.37,297.50 113.61,300.57 113.86,304.06 114.11,308.01 114.36,312.46 114.61,317.44 114.86,309.66 115.11,302.44 115.36,295.78 115.60,289.63 115.85,283.98 116.10,278.79 116.35,274.06 116.60,269.74 116.85,265.82 117.10,262.27 117.35,259.07 117.60,256.20 117.85,253.64 118.10,251.36 118.35,249.35 118.60,247.58 118.85,246.04 119.10,244.70 119.35,243.56 119.60,242.59 119.85,241.77 120.10,241.09 120.35,240.53 120.60,240.09 120.85,239.73 121.10,239.46 121.35,239.25 121.60,239.11 121.85,239.00 122.10,238.94 122.35,238.90 122.59,238.88 122.84,238.87 123.09,238.87 123.34,238.87 123.59,238.87 123.84,238.87 124.09,238.88 124.34,238.91 124.59,238.96 124.84,239.04 125.09,239.16 125.34,239.35 125.59,239.60 125.84,239.94 126.09,240.37 126.34,240.93 126.59,241.61 126.84,242.45 127.09,243.46 127.34,244.67 127.59,246.08 127.84,247.73 128.09,249.64 128.34,251.82 128.59,254.31 128.84,257.12 129.09,260.29 129.34,263.84 129.59,267.79 129.84,272.17 130.09,277.02 130.34,282.36 130.59,288.21 130.84,294.62 131.09,301.61 131.34,309.20 131.59,317.44 131.84,312.31 132.09,307.77 132.34,303.78 132.60,300.28 132.85,297.24 133.10,294.61 133.35,292.35 133.60,290.43 133.86,288.80 134.11,287.44 134.36,286.31 134.61,285.39 134.87,284.64 135.12,284.05 135.37,283.58 135.62,283.23 135.88,282.96 136.13,282.77 136.38,282.63 136.63,282.54 136.89,282.48 137.14,282.45 137.39,282.43 137.64,282.42 137.90,282.42 138.15,282.42 138.40,282.42 138.66,282.42 138.91,282.42 139.16,282.42 139.42,282.43 139.67,282.44 139.93,282.47 140.18,282.51 140.44,282.57 140.69,282.67 140.94,282.81 141.20,283.00 141.45,283.26 141.71,283.59 141.96,284.02 142.22,284.56 142.47,285.23 142.72,286.04 142.98,287.02 143.23,288.20 143.49,289.59 143.74,291.22 144.00,293.11 144.25,295.31 144.50,297.83 144.76,300.72 145.01,303.99 145.27,307.70 145.52,311.87 145.78,316.54 146.03,308.68 146.29,301.43 146.54,294.77 146.80,288.65 147.05,283.06 147.31,277.97 147.56,273.35 147.82,269.16 148.07,265.39 148.33,262.00 148.58,258.98 148.84,256.29 149.10,253.92 149.35,251.84 149.61,250.02 149.86,248.45 150.12,247.10 150.37,245.95 150.63,244.98 150.88,244.18 151.14,243.53 151.39,243.00 151.65,242.58 151.90,242.26 152.16,242.02 152.42,241.84 152.67,241.72 152.93,241.65 153.18,241.60 153.44,241.57 153.69,241.56 153.95,241.56 154.20,241.56 154.46,241.56 154.71,241.56 154.96,241.57 155.22,241.60 155.47,241.65 155.72,241.72 155.98,241.85 156.23,242.02 156.48,242.27 156.74,242.59 156.99,243.01 157.25,243.55 157.50,244.21 157.75,245.02 158.01,246.00 158.26,247.16 158.51,248.53 158.77,250.12 159.02,251.96 159.27,254.07 159.53,256.47 159.78,259.19 160.03,262.25 160.29,265.67 160.54,269.49 160.79,273.73 161.05,278.41 161.30,283.56 161.55,289.22 161.81,295.40 162.06,302.15 162.32,309.48 162.57,317.44 162.82,313.10 163.08,309.26 163.33,305.88 163.59,302.92 163.84,300.35 164.10,298.12 164.35,296.21 164.61,294.58 164.86,293.21 165.12,292.05 165.37,291.10 165.63,290.32 165.88,289.69 166.14,289.18 166.39,288.79 166.64,288.49 166.90,288.27 167.15,288.10 167.41,287.99 167.66,287.91 167.92,287.86 168.17,287.83 168.43,287.82 168.68,287.81 168.94,287.81 169.19,287.81 169.45,287.81 169.70,287.81 169.96,287.81 170.22,287.81 170.47,287.81 170.73,287.83 170.99,287.84 171.24,287.88 171.50,287.93 171.75,288.01 172.01,288.12 172.27,288.28 172.52,288.48 172.78,288.75 173.04,289.09 173.29,289.53 173.55,290.06 173.81,290.71 174.06,291.50 174.32,292.45 174.58,293.56 174.83,294.87 175.09,296.39 175.34,298.15 175.60,300.18 175.86,302.49 176.11,305.12 176.37,308.10 176.63,311.44 176.88,315.20 177.14,307.07 177.39,299.55 177.64,292.62 177.90,286.25 178.15,280.41 178.40,275.07 178.66,270.20 178.91,265.78 179.16,261.78 179.42,258.18 179.67,254.95 179.92,252.06 180.18,249.49 180.43,247.22 180.68,245.23 180.94,243.49 181.19,241.99 181.44,240.70 181.70,239.60 181.95,238.68 182.20,237.91 182.46,237.29 182.71,236.78 182.96,236.38 183.22,236.08 183.47,235.85 183.72,235.68 183.98,235.56 184.23,235.49 184.48,235.45 184.74,235.42 184.99,235.41 185.24,235.41 185.50,235.41 185.75,235.41 186.00,235.41 186.25,235.42 186.50,235.44 186.74,235.49 186.99,235.56 187.24,235.67 187.49,235.83 187.74,236.05 187.99,236.35 188.24,236.73 188.49,237.21 188.74,237.82 188.99,238.55 189.24,239.44 189.49,240.49 189.74,241.73 189.99,243.17 190.24,244.84 190.49,246.76 190.74,248.93 190.99,251.40 191.24,254.18 191.49,257.28 191.74,260.75 191.99,264.59 192.24,268.83 192.49,273.51 192.74,278.64 192.99,284.25 193.24,290.37 193.49,297.03 193.74,304.24 193.99,312.05 194.24,309.82 194.49,307.84 194.74,306.10 195.00,304.57 195.25,303.25 195.50,302.10 195.75,301.12 196.01,300.28 196.26,299.57 196.51,298.98 196.76,298.48 197.02,298.08 197.27,297.76 197.52,297.50 197.77,297.29 198.03,297.14 198.28,297.02 198.53,296.94 198.78,296.88 199.03,296.84 199.29,296.82 199.54,296.80 199.79,296.79 200.04,296.79 200.30,296.79 200.55,296.79 200.80,296.79 201.05,296.79 201.30,296.79 201.55,296.79 201.80,296.79 202.05,296.80 202.30,296.81 202.55,296.83 202.80,296.85 203.05,296.90 203.30,296.96 203.55,297.04 203.80,297.15 204.05,297.30 204.30,297.48 204.55,297.72 204.80,298.01 205.05,298.36 205.30,298.78 205.55,299.29 205.80,299.90 206.05,300.60 206.30,301.43 206.55,302.38 206.80,303.47 207.05,304.72 207.30,306.14 207.55,307.75 207.80,309.56 208.05,311.59 208.30,313.85" fill="none" stroke="#177a76" stroke-width="1.9" stroke-linejoin="round" stroke-linecap="butt" />
<polyline points="107.67,323.91 107.91,322.92 108.16,321.89 108.41,320.82 108.66,319.70 108.91,318.55 109.15,317.35 109.40,316.12 109.65,314.85 109.90,313.55 110.14,312.22 110.39,310.85 110.64,309.46 110.89,308.03 111.14,306.56 111.38,305.05 111.63,303.49 111.88,301.88 112.13,300.23 112.38,298.52 112.62,296.76 112.87,294.93 113.12,293.05 113.37,291.11 113.61,289.10 113.86,287.04 114.11,284.92 114.36,282.71 114.61,280.37 114.85,277.86 115.10,275.15 115.35,272.22 115.60,268.99 115.85,264.98 116.09,260.33 116.34,255.52 116.59,250.99 116.84,246.69 117.09,242.40 117.33,238.37 117.58,234.83 117.83,231.59 118.08,228.47 118.32,225.68 118.57,223.44 118.82,221.95 119.07,220.78 119.32,219.75 119.56,218.87 119.81,218.16 120.06,217.63 120.31,217.31 120.56,217.11 120.80,216.92 121.05,216.75 121.30,216.60 121.55,216.46 121.79,216.33 122.04,216.23 122.29,216.14 122.54,216.07 122.79,216.02 123.03,215.98 123.28,215.97 123.34,215.97 123.60,215.97 123.85,215.97 124.10,215.98 124.36,216.01 124.61,216.07 124.86,216.16 125.12,216.31 125.37,216.51 125.63,216.80 125.88,217.19 126.13,217.69 126.39,218.32 126.64,219.11 126.89,220.07 127.15,221.22 127.40,222.60 127.65,224.21 127.91,226.10 128.16,228.27 128.41,230.77 128.67,233.61 128.92,236.83 129.17,240.45 129.43,244.50 129.68,249.02 129.93,254.03 130.19,259.57 130.44,265.67 130.70,272.37 130.95,279.69 131.20,287.67 131.46,296.35 131.71,305.77 131.96,299.98 132.20,294.82 132.45,290.25 132.70,286.21 132.95,282.67 133.20,279.58 133.44,276.90 133.69,274.59 133.94,272.62 134.19,270.95 134.44,269.55 134.68,268.39 134.93,267.45 135.18,266.68 135.43,266.07 135.68,265.60 135.92,265.24 136.17,264.97 136.42,264.78 136.67,264.65 136.91,264.56 137.16,264.51 137.41,264.48 137.66,264.47 137.91,264.46 138.15,264.46 138.40,264.46 138.66,264.46 138.91,264.46 139.16,264.46 139.42,264.47 139.67,264.50 139.93,264.54 140.18,264.60 140.44,264.70 140.69,264.84 140.94,265.04 141.20,265.32 141.45,265.67 141.71,266.13 141.96,266.70 142.22,267.42 142.47,268.29 142.72,269.34 142.98,270.59 143.23,272.07 143.49,273.80 143.74,275.82 144.00,278.14 144.25,280.80 144.50,283.84 144.76,287.27 145.01,291.15 145.27,295.50 145.52,300.36 145.78,305.77 146.03,296.49 146.29,287.94 146.54,280.08 146.80,272.87 147.05,266.27 147.31,260.27 147.56,254.81 147.82,249.87 148.07,245.42 148.33,241.43 148.58,237.86 148.84,234.70 149.10,231.90 149.35,229.44 149.61,227.29 149.86,225.44 150.12,223.84 150.37,222.49 150.63,221.35 150.88,220.41 151.14,219.63 151.39,219.01 151.65,218.52 151.90,218.14 152.16,217.85 152.42,217.65 152.67,217.51 152.93,217.41 153.18,217.36 153.44,217.33 153.69,217.32 153.95,217.32 154.20,217.31 154.20,217.31 154.45,217.32 154.70,217.35 154.95,217.40 155.19,217.46 155.44,217.55 155.69,217.65 155.94,217.76 156.19,217.90 156.43,218.05 156.68,218.22 156.93,218.41 157.18,218.61 157.43,218.91 157.67,219.49 157.92,220.32 158.17,221.33 158.42,222.48 158.66,223.73 158.91,225.15 159.16,227.01 159.41,229.20 159.66,231.62 159.90,234.18 160.15,236.87 160.40,239.88 160.65,243.13 160.90,246.57 161.14,250.10 161.39,253.78 161.64,257.75 161.89,261.82 162.13,265.76 162.38,269.50 162.63,273.19 162.88,276.83 163.13,280.35 163.37,283.73 163.62,286.91 163.87,290.01 164.12,293.12 164.37,296.18 164.61,299.13 164.86,301.90 165.11,304.42 165.36,306.63 165.60,308.46 165.85,310.01 166.10,311.42 166.35,312.70 166.60,313.86 166.84,314.91 167.09,315.88 167.34,316.78 167.59,317.62 167.84,318.45 168.08,319.24 168.33,320.00 168.58,320.72 168.83,321.40 169.08,322.03 169.32,322.60 169.57,323.11 169.82,323.54 170.07,323.91" fill="none" stroke="#d41c1c" stroke-width="2.1" stroke-linejoin="round" stroke-linecap="butt" />
<polyline points="246.30,287.16 246.56,282.72 246.81,278.67 247.07,274.99 247.32,271.66 247.58,268.66 247.83,265.97 248.09,263.56 248.34,261.43 248.60,259.54 248.85,257.88 249.11,256.43 249.37,255.18 249.62,254.11 249.88,253.20 250.13,252.43 250.39,251.79 250.64,251.27 250.90,250.85 251.15,250.52 251.41,250.26 251.66,250.07 251.92,249.93 252.18,249.84 252.43,249.77 252.69,249.74 252.94,249.72 253.20,249.71 253.45,249.71 253.71,249.71 253.96,249.71 254.21,249.71 254.47,249.72 254.72,249.74 254.97,249.78 255.22,249.84 255.47,249.94 255.73,250.08 255.98,250.28 256.23,250.54 256.48,250.88 256.74,251.31 256.99,251.84 257.24,252.50 257.49,253.28 257.75,254.22 258.00,255.32 258.25,256.60 258.50,258.08 258.76,259.77 259.01,261.71 259.26,263.90 259.51,266.36 259.77,269.11 260.02,272.19 260.27,275.59 260.52,279.36 260.77,283.51 261.03,288.06 261.28,293.04 261.53,298.47 261.78,304.37 262.04,310.78 262.29,317.71 262.54,313.42 262.79,309.59 263.04,306.19 263.29,303.19 263.53,300.54 263.78,298.23 264.03,296.22 264.28,294.48 264.53,292.98 264.78,291.71 265.03,290.63 265.28,289.73 265.53,288.98 265.78,288.37 266.02,287.88 266.27,287.48 266.52,287.18 266.77,286.94 267.02,286.77 267.27,286.64 267.52,286.55 267.77,286.49 268.02,286.45 268.27,286.43 268.52,286.42 268.76,286.41 269.01,286.41 269.26,286.41 269.51,286.41 269.77,286.41 270.02,286.41 270.27,286.41 270.53,286.42 270.78,286.43 271.03,286.45 271.29,286.50 271.54,286.56 271.79,286.66 272.05,286.80 272.30,287.00 272.55,287.26 272.81,287.60 273.06,288.04 273.31,288.59 273.57,289.26 273.82,290.09 274.08,291.09 274.33,292.29 274.58,293.70 274.84,295.36 275.09,297.29 275.34,299.53 275.60,302.09 275.85,305.03 276.10,308.36 276.36,312.13 276.61,316.38 276.86,309.37 277.11,302.91 277.36,296.96 277.61,291.51 277.86,286.53 278.10,281.99 278.35,277.87 278.60,274.14 278.85,270.77 279.10,267.76 279.35,265.06 279.60,262.67 279.85,260.55 280.09,258.69 280.34,257.07 280.59,255.67 280.84,254.47 281.09,253.44 281.34,252.58 281.59,251.87 281.84,251.28 282.08,250.81 282.33,250.44 282.58,250.15 282.83,249.94 283.08,249.78 283.33,249.68 283.58,249.61 283.83,249.56 284.08,249.54 284.32,249.53 284.57,249.53 284.82,249.53 285.08,249.53 285.33,249.53 285.58,249.54 285.84,249.57 286.09,249.61 286.35,249.68 286.60,249.79 286.86,249.95 287.11,250.18 287.37,250.48 287.62,250.86 287.87,251.35 288.13,251.96 288.38,252.70 288.64,253.60 288.89,254.66 289.15,255.91 289.40,257.37 289.66,259.06 289.91,260.99 290.16,263.19 290.42,265.68 290.67,268.48 290.93,271.62 291.18,275.11 291.44,278.99 291.69,283.28 291.95,288.00 292.20,293.18 292.45,298.85 292.71,305.03 292.96,311.75 293.22,319.03 293.46,314.39 293.71,310.27 293.96,306.63 294.21,303.42 294.45,300.61 294.70,298.17 294.95,296.06 295.19,294.25 295.44,292.70 295.69,291.40 295.93,290.30 296.18,289.40 296.43,288.66 296.67,288.06 296.92,287.58 297.17,287.21 297.42,286.92 297.66,286.71 297.91,286.55 298.16,286.44 298.40,286.37 298.65,286.33 298.90,286.30 299.14,286.28 299.39,286.28 299.64,286.28 299.88,286.27 300.13,286.27 300.39,286.27 300.64,286.28 300.89,286.28 301.15,286.29 301.40,286.30 301.66,286.33 301.91,286.38 302.17,286.46 302.42,286.58 302.67,286.76 302.93,286.99 303.18,287.31 303.44,287.72 303.69,288.25 303.95,288.92 304.20,289.74 304.46,290.74 304.71,291.96 304.96,293.41 305.22,295.12 305.47,297.13 305.73,299.47 305.98,302.18 306.24,305.30 306.49,308.85 306.76,307.38 307.03,305.90 307.29,304.43 307.60,305.75 307.91,307.08 308.22,308.41 308.47,301.65 308.73,295.46 308.98,289.82 309.24,284.71 309.49,280.07 309.75,275.90 310.00,272.15 310.26,268.81 310.52,265.84 310.77,263.21 311.03,260.90 311.28,258.89 311.54,257.15 311.79,255.66 312.05,254.39 312.30,253.32 312.56,252.43 312.81,251.71 313.07,251.12 313.32,250.66 313.58,250.30 313.83,250.04 314.09,249.84 314.34,249.71 314.60,249.62 314.85,249.57 315.11,249.55 315.36,249.53 315.62,249.53 315.87,249.53 316.13,249.53 316.38,249.53 316.63,249.54 316.88,249.57 317.14,249.61 317.39,249.68 317.64,249.79 317.89,249.95 318.15,250.18 318.40,250.48 318.65,250.86 318.90,251.35 319.16,251.96 319.41,252.70 319.66,253.60 319.91,254.66 320.17,255.91 320.42,257.37 320.67,259.06 320.92,260.99 321.18,263.19 321.43,265.68 321.68,268.48 321.93,271.62 322.19,275.11 322.44,278.99 322.69,283.28 322.94,288.00 323.20,293.18 323.45,298.85 323.70,305.03 323.95,311.75 324.21,319.03 324.46,314.43 324.72,310.35 324.97,306.77 325.22,303.63 325.48,300.90 325.73,298.54 325.98,296.51 326.24,294.79 326.49,293.33 326.75,292.11 327.00,291.09 327.25,290.27 327.51,289.60 327.76,289.06 328.01,288.65 328.27,288.33 328.52,288.09 328.78,287.91 329.03,287.79 329.28,287.71 329.54,287.66 329.79,287.63 330.04,287.61 330.30,287.61 330.55,287.60 330.81,287.60 331.06,287.60 331.31,287.60 331.56,287.60 331.81,287.61 332.06,287.61 332.31,287.62 332.55,287.64 332.80,287.68 333.05,287.74 333.30,287.83 333.55,287.96 333.80,288.13 334.05,288.36 334.30,288.67 334.55,289.06 334.80,289.55 335.04,290.15 335.29,290.89 335.54,291.78 335.79,292.85 336.04,294.11 336.29,295.59 336.54,297.32 336.79,299.31 337.04,301.60 337.29,304.22 337.54,307.19 337.78,310.56 338.03,314.35 338.28,318.59 338.53,311.55 338.78,305.05 339.02,299.05 339.27,293.54 339.52,288.48 339.76,283.86 340.01,279.65 340.26,275.82 340.51,272.36 340.75,269.24 341.00,266.44 341.25,263.94 341.49,261.72 341.74,259.75 341.99,258.03 342.23,256.53 342.48,255.23 342.73,254.11 342.97,253.16 343.22,252.36 343.47,251.70 343.72,251.16 343.96,250.72 344.21,250.37 344.46,250.11 344.70,249.91 344.95,249.76 345.20,249.66 345.44,249.60 345.69,249.56 345.94,249.54 346.18,249.53 346.43,249.53 346.68,249.53 346.93,249.53 347.18,249.53 347.43,249.54 347.68,249.56 347.93,249.61 348.18,249.68 348.43,249.79 348.68,249.94 348.93,250.16 349.19,250.45 349.44,250.83 349.69,251.31 349.94,251.91 350.19,252.63 350.44,253.51 350.69,254.55 350.94,255.77 351.19,257.20 351.44,258.84 351.69,260.73 351.94,262.88 352.19,265.32 352.44,268.06 352.69,271.12 352.95,274.54 353.20,278.34 353.45,282.53 353.70,287.14 353.95,292.21 354.20,297.75 354.45,303.79 354.70,310.36 354.95,317.49 355.20,313.06 355.44,309.14 355.69,305.67 355.94,302.61 356.19,299.94 356.43,297.61 356.68,295.60 356.93,293.87 357.17,292.40 357.42,291.15 357.67,290.11 357.91,289.25 358.16,288.54 358.41,287.97 358.65,287.52 358.90,287.16 359.15,286.89 359.40,286.69 359.64,286.54 359.89,286.44 360.14,286.37 360.38,286.32 360.63,286.30 360.88,286.28 361.12,286.28 361.37,286.28 361.62,286.27 361.86,286.27 362.11,286.27 362.36,286.28 362.61,286.28 362.86,286.28 363.11,286.29 363.36,286.31 363.61,286.35 363.86,286.40 364.11,286.48 364.35,286.60 364.60,286.76 364.85,286.97 365.10,287.25 365.35,287.61 365.60,288.06 365.85,288.61 366.10,289.29 366.35,290.11 366.60,291.09 366.84,292.24 367.09,293.60 367.34,295.18 367.59,297.01 367.84,299.11 368.09,301.51 368.34,304.24 368.59,307.32 368.84,310.79 369.09,314.69 369.33,319.03 369.58,311.75 369.83,305.03 370.08,298.85 370.32,293.18 370.57,288.00 370.82,283.28 371.06,278.99 371.31,275.11 371.56,271.62 371.80,268.48 372.05,265.68 372.30,263.19 372.54,260.99 372.79,259.06 373.04,257.37 373.29,255.91 373.53,254.66 373.78,253.60 374.03,252.70 374.27,251.96 374.52,251.35 374.77,250.86 375.01,250.48 375.26,250.18 375.51,249.95 375.75,249.79 376.00,249.68 376.25,249.61 376.50,249.57 376.74,249.54 376.99,249.53 377.24,249.53 377.48,249.53 377.73,249.53 377.98,249.53 378.23,249.54 378.48,249.56 378.73,249.61 378.98,249.68 379.22,249.79 379.47,249.94 379.72,250.16 379.97,250.45 380.22,250.83 380.47,251.30 380.72,251.89 380.97,252.61 381.22,253.48 381.46,254.52 381.71,255.73 381.96,257.15 382.21,258.79 382.46,260.67 382.71,262.80 382.96,265.22 383.21,267.95 383.45,271.00 383.70,274.40 383.95,278.17 384.20,282.33 384.45,286.92 384.70,291.96 384.95,297.47 385.20,303.47 385.45,310.00 385.69,317.09 385.95,312.57 386.21,308.58 386.46,305.06 386.72,301.99 386.97,299.31 387.23,297.00 387.49,295.01 387.74,293.32 388.00,291.89 388.25,290.69 388.51,289.70 388.77,288.88 389.02,288.23 389.28,287.71 389.54,287.30 389.79,286.98 390.05,286.75 390.30,286.58 390.56,286.46 390.82,286.38 391.07,286.33 391.33,286.30 391.58,286.29 391.84,286.28 392.10,286.28 392.35,286.27 392.61,286.27 392.86,286.27 393.11,286.28 393.36,286.28 393.61,286.28 393.86,286.29 394.11,286.30 394.36,286.32 394.61,286.36 394.86,286.41 395.11,286.48 395.37,286.58 395.62,286.72 395.87,286.90 396.12,287.13 396.37,287.41 396.62,287.77 396.87,288.20 397.12,288.72 397.37,289.35 397.62,290.08 397.87,290.95 398.12,291.96 398.37,293.13 398.62,294.47 398.87,296.00 399.13,297.74 399.38,299.71 399.63,301.93 399.88,304.41 400.13,307.19 400.38,310.28 400.63,313.70 400.88,317.49 401.13,309.73 401.39,302.64 401.64,296.17 401.89,290.31 402.15,284.99 402.40,280.21 402.65,275.91 402.91,272.08 403.16,268.67 403.41,265.66 403.66,263.01 403.92,260.71 404.17,258.71 404.42,257.00 404.68,255.54 404.93,254.32 405.18,253.30 405.44,252.47 405.69,251.80 405.94,251.27 406.20,250.86 406.45,250.55 406.70,250.33 406.95,250.18 407.21,250.08 407.46,250.02 407.71,249.99 407.97,249.98 408.22,249.97 408.47,249.97 408.73,249.97 408.98,249.98 409.23,249.99 409.49,250.02 409.74,250.08 409.99,250.18 410.25,250.33 410.50,250.55 410.75,250.85 411.00,251.25 411.26,251.77 411.51,252.43 411.76,253.26 412.02,254.26 412.27,255.47 412.52,256.91 412.78,258.60 413.03,260.57 413.28,262.84 413.54,265.45 413.79,268.42 414.04,271.79 414.29,275.57 414.55,279.81 414.80,284.54 415.05,289.78 415.31,295.57 415.56,301.95 415.81,308.95 416.07,316.60 416.31,312.70 416.56,309.19 416.81,306.05 417.05,303.25 417.30,300.76 417.55,298.56 417.80,296.63 418.04,294.93 418.29,293.46 418.54,292.18 418.78,291.09 419.03,290.16 419.28,289.37 419.52,288.71 419.77,288.16 420.02,287.71 420.26,287.35 420.51,287.06 420.76,286.84 421.01,286.67 421.25,286.54 421.50,286.44 421.75,286.38 421.99,286.33 422.24,286.31 422.49,286.29 422.73,286.28 422.98,286.28 423.23,286.28 423.47,286.27 423.72,286.27 423.97,286.27 424.22,286.28 424.47,286.28 424.73,286.28 424.98,286.28 425.23,286.30 425.48,286.31 425.73,286.34 425.98,286.39 426.23,286.45 426.48,286.54 426.73,286.65 426.98,286.80 427.23,287.00 427.49,287.24 427.74,287.54 427.99,287.91 428.24,288.35 428.49,288.88 428.74,289.51 428.99,290.24 429.24,291.10 429.49,292.09 429.74,293.23 429.99,294.53 430.25,296.00 430.50,297.67 430.75,299.56 431.00,301.66 431.25,304.02 431.50,306.64" fill="none" stroke="#177a76" stroke-width="1.9" stroke-linejoin="round" stroke-linecap="butt" />
<polyline points="331.31,325.41 331.55,324.27 331.80,323.09 332.05,321.88 332.29,320.64 332.54,319.37 332.79,318.07 333.04,316.75 333.28,315.39 333.53,314.01 333.78,312.61 334.02,311.19 334.27,309.74 334.52,308.27 334.76,306.77 335.01,305.23 335.26,303.66 335.50,302.06 335.75,300.41 336.00,298.71 336.25,296.97 336.49,295.18 336.74,293.34 336.99,291.50 337.23,289.67 337.48,287.82 337.73,285.93 337.97,283.96 338.22,281.90 338.47,279.70 338.71,277.36 338.96,274.83 339.21,272.10 339.46,269.11 339.70,265.43 339.95,261.10 340.20,256.37 340.44,251.49 340.69,246.70 340.94,241.80 341.18,236.25 341.43,230.97 341.68,226.90 341.92,224.69 342.17,222.99 342.42,221.52 342.67,220.28 342.91,219.26 343.16,218.46 343.41,217.87 343.65,217.47 343.90,217.12 344.15,216.79 344.39,216.49 344.64,216.21 344.89,215.95 345.14,215.72 345.38,215.52 345.63,215.36 345.88,215.22 346.12,215.11 346.37,215.04 346.62,215.00 346.74,215.00 346.99,215.00 347.24,215.00 347.49,215.01 347.74,215.03 347.98,215.07 348.23,215.13 348.48,215.24 348.73,215.39 348.98,215.62 349.23,215.92 349.48,216.32 349.73,216.84 349.97,217.49 350.22,218.30 350.47,219.29 350.72,220.49 350.97,221.91 351.22,223.58 351.47,225.54 351.72,227.81 351.97,230.42 352.21,233.40 352.46,236.78 352.71,240.61 352.96,244.90 353.21,249.71 353.46,255.06 353.71,261.00 353.96,267.56 354.20,274.79 354.45,282.72 354.70,291.41 354.95,300.88 355.21,295.64 355.46,290.92 355.72,286.71 355.97,282.95 356.23,279.61 356.48,276.67 356.74,274.09 356.99,271.84 357.25,269.88 357.51,268.20 357.76,266.77 358.02,265.55 358.27,264.53 358.53,263.69 358.78,263.00 359.04,262.44 359.29,261.99 359.55,261.65 359.80,261.39 360.06,261.19 360.32,261.05 360.57,260.96 360.83,260.89 361.08,260.86 361.34,260.83 361.59,260.82 361.85,260.82 362.10,260.82 362.36,260.82 362.61,260.82 362.86,260.82 363.11,260.82 363.36,260.84 363.60,260.86 363.85,260.90 364.10,260.98 364.35,261.09 364.60,261.25 364.85,261.47 365.10,261.77 365.35,262.17 365.60,262.68 365.85,263.32 366.10,264.12 366.34,265.09 366.59,266.26 366.84,267.66 367.09,269.31 367.34,271.25 367.59,273.50 367.84,276.09 368.09,279.06 368.34,282.45 368.59,286.28 368.84,290.61 369.09,295.46 369.33,300.88 369.59,291.41 369.84,282.72 370.09,274.79 370.34,267.56 370.59,261.00 370.84,255.06 371.09,249.71 371.34,244.90 371.59,240.61 371.84,236.78 372.09,233.40 372.34,230.42 372.59,227.81 372.84,225.54 373.09,223.58 373.35,221.91 373.60,220.49 373.85,219.29 374.10,218.30 374.35,217.49 374.60,216.84 374.85,216.32 375.10,215.92 375.35,215.62 375.60,215.39 375.85,215.24 376.10,215.13 376.35,215.07 376.60,215.03 376.85,215.01 377.11,215.00 377.36,215.00 377.61,215.00 377.61,215.00 377.85,215.01 378.10,215.04 378.35,215.10 378.59,215.17 378.84,215.27 379.09,215.38 379.34,215.52 379.58,215.68 379.83,215.85 380.08,216.05 380.32,216.27 380.57,216.51 380.82,216.77 381.06,217.22 381.31,218.02 381.56,219.14 381.80,220.54 382.05,222.20 382.30,224.08 382.55,226.23 382.79,229.87 383.04,234.73 383.29,239.88 383.53,244.38 383.78,248.52 384.03,252.58 384.27,256.48 384.52,260.16 384.77,263.59 385.01,266.84 385.26,269.93 385.51,272.92 385.76,275.82 386.00,278.67 386.25,281.45 386.50,284.15 386.74,286.75 386.99,289.22 387.24,291.59 387.48,293.95 387.73,296.29 387.98,298.58 388.22,300.80 388.47,302.94 388.72,304.98 388.97,306.89 389.21,308.65 389.46,310.25 389.71,311.71 389.95,313.14 390.20,314.52 390.45,315.86 390.69,317.14 390.94,318.36 391.19,319.52 391.44,320.60 391.68,321.59 391.93,322.50 392.18,323.31 392.42,324.02" fill="none" stroke="#d41c1c" stroke-width="2.1" stroke-linejoin="round" stroke-linecap="butt" />
<polyline points="468.30,273.95 468.56,274.39 468.83,274.84 469.09,275.28 469.36,275.73 469.62,276.17 469.89,276.62 470.15,277.07 470.41,278.82 470.66,280.57 470.92,282.33 471.17,284.08 471.43,285.83 471.68,287.59 471.93,289.34 472.19,291.09 472.44,292.85 472.70,294.60 472.95,296.36 473.21,298.11 473.46,299.86 473.72,301.62 473.97,303.37 474.23,305.12 474.48,306.88 474.74,308.63 474.99,310.38 475.25,312.14 475.50,313.89 475.76,315.65 476.01,317.40 476.26,312.68 476.51,308.49 476.76,304.78 477.01,301.52 477.26,298.66 477.51,296.18 477.76,294.03 478.00,292.19 478.25,290.62 478.50,289.29 478.75,288.18 479.00,287.26 479.25,286.50 479.50,285.89 479.75,285.41 480.00,285.03 480.25,284.74 480.49,284.52 480.74,284.36 480.99,284.25 481.24,284.18 481.49,284.13 481.74,284.10 481.99,284.09 482.24,284.08 482.49,284.08 482.74,284.08 482.98,284.08 483.23,284.08 483.48,284.08 483.73,284.08 483.98,284.09 484.23,284.11 484.48,284.14 484.73,284.19 484.98,284.27 485.23,284.39 485.48,284.56 485.73,284.80 485.97,285.11 486.22,285.52 486.47,286.05 486.72,286.71 486.97,287.53 487.22,288.53 487.47,289.74 487.72,291.18 487.97,292.88 488.22,294.89 488.47,297.22 488.72,299.91 488.96,303.01 489.21,306.56 489.46,310.58 489.71,308.76 489.96,306.94 490.20,305.12 490.51,308.11 490.82,311.10 491.13,314.09 491.38,309.21 491.62,304.66 491.87,300.44 492.12,296.52 492.36,292.91 492.61,289.57 492.86,286.50 493.10,283.70 493.35,281.14 493.60,278.81 493.84,276.70 494.09,274.81 494.34,273.11 494.58,271.59 494.83,270.25 495.08,269.08 495.32,268.05 495.57,267.17 495.82,266.41 496.06,265.77 496.31,265.24 496.56,264.80 496.81,264.45 497.05,264.18 497.30,263.97 497.55,263.82 497.79,263.71 498.04,263.65 498.29,263.61 498.53,263.59 498.78,263.58 499.03,263.58 499.28,263.58 499.53,263.59 499.78,263.61 500.03,263.65 500.28,263.71 500.53,263.82 500.78,263.97 501.03,264.17 501.28,264.44 501.53,264.79 501.78,265.22 502.03,265.74 502.28,266.37 502.53,267.12 502.78,267.99 503.04,269.00 503.29,270.17 503.54,271.49 503.79,272.98 504.04,274.66 504.29,276.53 504.54,278.61 504.79,280.90 505.04,283.43 505.29,286.20 505.54,289.22 505.79,292.51 506.04,296.08 506.29,299.95 506.54,304.11 506.79,308.60 507.04,313.41 507.29,318.57 507.55,314.54 507.80,310.94 508.05,307.75 508.30,304.92 508.55,302.44 508.80,300.26 509.05,298.37 509.30,296.73 509.55,295.33 509.80,294.13 510.06,293.12 510.31,292.27 510.56,291.57 510.81,290.99 511.06,290.53 511.31,290.16 511.56,289.87 511.81,289.65 512.06,289.48 512.32,289.36 512.57,289.28 512.82,289.22 513.07,289.19 513.32,289.16 513.57,289.15 513.82,289.15 514.07,289.15 514.32,289.15 514.58,289.15 514.82,289.15 515.07,289.15 515.32,289.15 515.57,289.16 515.82,289.17 516.07,289.20 516.32,289.24 516.57,289.32 516.82,289.42 517.07,289.58 517.31,289.79 517.56,290.08 517.81,290.45 518.06,290.93 518.31,291.53 518.56,292.27 518.81,293.17 519.06,294.26 519.31,295.57 519.56,297.11 519.80,298.92 520.05,301.03 520.30,303.47 520.55,306.28 520.80,309.48 521.05,313.13 521.30,317.24 521.55,321.88 521.80,316.72 522.05,311.88 522.30,307.37 522.56,303.17 522.81,299.26 523.06,295.64 523.31,292.30 523.57,289.21 523.82,286.38 524.07,283.78 524.32,281.41 524.57,279.26 524.83,277.31 525.08,275.56 525.33,273.99 525.58,272.59 525.84,271.35 526.09,270.26 526.34,269.31 526.59,268.49 526.84,267.79 527.10,267.20 527.35,266.71 527.60,266.31 527.85,265.99 528.11,265.73 528.36,265.54 528.61,265.40 528.86,265.30 529.11,265.24 529.37,265.20 529.62,265.19 529.87,265.18 530.12,265.18 530.37,265.18 530.62,265.19 530.86,265.21 531.11,265.26 531.36,265.34 531.60,265.46 531.85,265.64 532.10,265.89 532.34,266.22 532.59,266.63 532.84,267.15 533.09,267.78 533.33,268.54 533.58,269.44 533.83,270.49 534.07,271.71 534.32,273.11 534.57,274.70 534.81,276.50 535.06,278.51 535.31,280.77 535.55,283.27 535.80,286.04 536.05,289.08 536.29,292.41 536.54,296.06 536.79,300.02 537.03,304.32 537.28,308.97 537.53,313.99 537.77,319.39 538.02,315.06 538.27,311.19 538.51,307.74 538.76,304.67 539.01,301.96 539.25,299.57 539.50,297.48 539.75,295.66 540.00,294.09 540.24,292.74 540.49,291.59 540.74,290.62 540.98,289.81 541.23,289.13 541.48,288.58 541.72,288.13 541.97,287.78 542.22,287.50 542.46,287.29 542.71,287.13 542.96,287.02 543.20,286.93 543.45,286.88 543.70,286.85 543.94,286.83 544.19,286.81 544.44,286.81 544.68,286.81 544.93,286.81 545.18,286.81 545.43,286.81 545.68,286.81 545.92,286.81 546.17,286.82 546.42,286.83 546.67,286.86 546.92,286.90 547.17,286.97 547.42,287.08 547.67,287.23 547.92,287.43 548.17,287.71 548.41,288.07 548.66,288.53 548.91,289.11 549.16,289.82 549.41,290.70 549.66,291.75 549.91,293.01 550.16,294.50 550.41,296.25 550.65,298.29 550.90,300.65 551.15,303.35 551.40,306.45 551.65,309.96 551.90,313.94 552.15,318.42 552.40,323.44 552.65,310.94 552.89,299.46 553.14,288.95 553.39,279.34 553.64,270.58 553.89,262.64 554.14,255.44 554.39,248.96 554.63,243.14 554.88,237.94 555.13,233.30 555.38,229.20 555.63,225.59 555.88,222.43 556.13,219.69 556.37,217.31 556.62,215.29 556.87,213.56 557.12,212.12 557.37,210.92 557.62,209.94 557.87,209.15 558.12,208.52 558.36,208.03 558.61,207.67 558.86,207.40 559.11,207.21 559.36,207.08 559.61,207.00 559.86,206.95 560.10,206.93 560.35,206.92 560.60,206.92 560.85,206.92 561.10,206.92 561.35,206.92 561.60,206.93 561.85,206.96 562.10,207.01 562.35,207.10 562.60,207.24 562.85,207.45 563.10,207.76 563.36,208.17 563.61,208.71 563.86,209.42 564.11,210.31 564.36,211.41 564.61,212.75 564.86,214.37 565.11,216.30 565.36,218.58 565.61,221.24 565.86,224.32 566.11,227.86 566.36,231.91 566.61,236.51 566.86,241.71 567.11,247.55 567.36,254.07 567.61,261.35 567.87,269.41 568.12,278.33 568.37,288.14 568.62,298.92 568.87,310.72 569.12,323.60 569.37,318.11 569.63,313.26 569.88,309.00 570.13,305.26 570.39,302.01 570.64,299.20 570.89,296.79 571.15,294.74 571.40,293.00 571.65,291.54 571.91,290.34 572.16,289.35 572.42,288.56 572.67,287.92 572.92,287.43 573.18,287.05 573.43,286.76 573.68,286.56 573.94,286.41 574.19,286.31 574.44,286.25 574.70,286.22 574.95,286.20 575.21,286.19 575.46,286.19 575.71,286.18 575.97,286.18 576.22,286.18 576.48,286.18 576.73,286.19 576.99,286.19 577.24,286.20 577.50,286.22 577.75,286.26 578.01,286.31 578.26,286.39 578.52,286.51 578.77,286.67 579.03,286.88 579.28,287.16 579.54,287.52 579.79,287.97 580.05,288.53 580.30,289.20 580.56,290.02 580.81,291.00 581.07,292.16 581.32,293.52 581.58,295.10 581.83,296.93 582.09,299.04 582.34,301.44 582.60,304.17 582.85,307.26 583.11,310.74 583.36,314.64 583.62,319.00 583.87,313.30 584.13,308.04 584.38,303.18 584.64,298.72 584.89,294.64 585.15,290.91 585.40,287.53 585.66,284.46 585.92,281.70 586.17,279.23 586.43,277.03 586.68,275.08 586.94,273.37 587.19,271.88 587.45,270.59 587.70,269.49 587.96,268.56 588.21,267.79 588.47,267.15 588.72,266.64 588.98,266.24 589.23,265.94 589.49,265.72 589.74,265.57 590.00,265.47 590.26,265.41 590.51,265.38 590.77,265.38 591.02,265.37 591.27,265.38 591.53,265.38 591.78,265.40 592.03,265.43 592.28,265.49 592.53,265.58 592.79,265.72 593.04,265.90 593.29,266.14 593.54,266.44 593.80,266.82 594.05,267.29 594.30,267.85 594.55,268.51 594.80,269.28 595.06,270.18 595.31,271.21 595.56,272.38 595.81,273.70 596.07,275.19 596.32,276.85 596.57,278.69 596.82,280.73 597.08,282.97 597.33,285.42 597.58,288.10 597.83,291.02 598.08,294.18 598.34,297.61 598.59,301.30 598.84,305.27 599.09,309.54 599.35,314.11 599.60,319.00 599.85,315.13 600.11,311.65 600.36,308.53 600.62,305.75 600.87,303.28 601.13,301.10 601.38,299.18 601.64,297.50 601.89,296.04 602.15,294.77 602.40,293.69 602.65,292.76 602.91,291.98 603.16,291.33 603.42,290.78 603.67,290.34 603.93,289.98 604.18,289.69 604.44,289.47 604.69,289.30 604.95,289.17 605.20,289.08 605.46,289.01 605.71,288.97 605.97,288.94 606.22,288.93 606.48,288.92 606.73,288.91 606.99,288.91 607.24,288.91 607.50,288.91 607.74,288.91 607.99,288.91 608.24,288.92 608.48,288.92 608.73,288.93 608.98,288.96 609.22,289.00 609.47,289.07 609.72,289.17 609.96,289.31 610.21,289.51 610.46,289.77 610.70,290.11 610.95,290.55 611.20,291.10 611.44,291.78 611.69,292.61 611.94,293.62 612.18,294.82 612.43,296.23 612.68,297.90 612.92,299.84 613.17,302.08 613.42,304.66 613.67,307.60 613.91,310.95 614.16,314.74 614.41,319.00 614.66,313.24 614.91,307.91 615.16,302.98 615.41,298.44 615.66,294.26 615.91,290.44 616.16,286.95 616.41,283.78 616.66,280.91 616.91,278.33 617.17,276.01 617.42,273.95 617.67,272.13 617.92,270.52 618.17,269.13 618.42,267.92 618.67,266.89 618.92,266.02 619.17,265.29 619.42,264.70 619.67,264.22 619.93,263.85 620.18,263.57 620.43,263.36 620.68,263.22 620.93,263.13 621.18,263.07 621.43,263.05 621.68,263.04 621.93,263.04 622.19,263.04 622.46,263.03 622.72,263.03 622.98,263.01 623.24,262.99 623.50,262.95 623.76,262.89 624.02,262.81 624.28,262.71 624.54,262.58 624.80,262.42 625.07,262.22 625.33,261.98 625.63,278.49 625.94,294.99 626.23,296.16 626.51,297.33 626.79,298.50 627.08,299.67 627.36,300.84 627.61,302.59 627.86,304.34 628.10,306.10 628.35,307.85 628.60,309.61 628.84,311.36 629.09,313.11 629.34,314.87 629.58,307.85 629.83,300.84 630.08,293.82 630.32,286.81 630.61,289.02 630.90,291.22 631.19,293.43 631.44,292.06 631.69,290.85 631.94,289.78 632.18,288.85 632.43,288.04 632.68,287.34 632.93,286.73 633.18,286.22 633.43,285.78 633.68,285.42 633.93,285.12 634.18,284.87 634.43,284.67 634.68,284.51 634.92,284.39 635.17,284.30 635.42,284.22 635.67,284.17 635.92,284.14 636.17,284.11 636.42,284.10 636.67,284.09 636.92,284.08 637.17,284.08 637.42,284.08 637.66,284.08 637.91,284.08 638.16,284.08 638.41,284.08 638.66,284.08 638.91,284.09 639.16,284.09 639.41,284.11 639.65,284.14 639.90,284.18 640.15,284.24 640.40,284.33 640.65,284.46 640.90,284.63 641.15,284.85 641.40,285.12 641.64,285.48 641.89,285.91 642.14,286.44 642.39,287.08 642.64,287.85 642.89,288.75 643.14,289.81 643.39,291.05 643.63,292.48 643.88,294.13 644.13,296.01 644.38,298.14 644.63,300.56 644.88,303.27 645.13,306.32 645.38,309.73 645.62,313.51 645.87,317.71 646.12,316.25 646.37,314.79 646.63,313.33 646.88,311.88 647.13,310.42 647.38,308.96 647.63,307.50 647.88,306.04 648.13,304.58 648.38,303.12 648.63,301.66 648.88,300.21 649.13,298.75 649.39,297.29 649.64,295.83 649.89,294.37 650.14,292.91 650.39,291.45 650.64,289.99 650.89,288.54 651.14,287.08 651.39,285.62 651.64,284.16 651.89,282.70 652.15,281.24 652.40,279.78 652.65,278.32 652.90,276.87 653.15,275.41 653.40,273.95" fill="none" stroke="#177a76" stroke-width="1.9" stroke-linejoin="round" stroke-linecap="butt" />
<polyline points="522.60,295.38 522.84,293.73 523.09,292.24 523.34,290.92 523.58,289.75 523.83,288.71 524.08,287.80 524.32,287.00 524.57,286.30 524.82,285.70 525.06,285.18 525.31,284.74 525.56,284.37 525.80,284.06 526.05,283.80 526.30,283.59 526.54,283.42 526.79,283.28 527.04,283.18 527.29,283.10 527.53,283.03 527.78,282.99 528.03,282.96 528.27,282.94 528.52,282.93 528.77,282.92 529.01,282.91 529.26,282.91 529.51,282.91 529.75,282.91 530.00,282.91 530.25,282.91 530.50,282.91 530.75,282.91 531.00,282.92 531.25,282.93 531.50,282.95 531.76,282.98 532.01,283.03 532.26,283.11 532.51,283.23 532.76,283.38 533.01,283.59 533.26,283.86 533.51,284.21 533.76,284.64 534.01,285.18 534.26,285.84 534.51,286.63 534.76,287.58 535.02,288.70 535.27,290.02 535.52,291.55 535.77,293.32 536.02,295.36 536.27,297.69 536.52,300.34 536.77,303.33 537.02,306.70 537.27,310.48 537.52,314.69 537.77,319.39 538.02,315.99 538.27,312.96 538.51,310.25 538.76,307.84 539.01,305.71 539.25,303.84 539.50,302.20 539.75,300.77 540.00,299.54 540.24,298.48 540.49,297.58 540.74,296.81 540.98,296.18 541.23,295.65 541.48,295.21 541.72,294.86 541.97,294.59 542.22,294.37 542.46,294.20 542.71,294.08 542.96,293.99 543.20,293.92 543.45,293.88 543.70,293.85 543.94,293.84 544.19,293.83 544.44,293.82 544.68,293.82 544.93,293.82 545.18,293.82 545.43,293.82 545.68,293.82 545.92,293.82 546.17,293.83 546.42,293.84 546.67,293.86 546.92,293.90 547.17,293.96 547.42,294.04 547.67,294.16 547.92,294.33 548.17,294.55 548.41,294.84 548.66,295.21 548.91,295.68 549.16,296.26 549.41,296.97 549.66,297.82 549.91,298.84 550.16,300.04 550.41,301.46 550.65,303.10 550.90,305.01 551.15,307.20 551.40,309.70 551.65,312.55 551.90,315.76 552.15,319.38 552.40,323.44 552.65,310.46 552.89,298.78 553.14,288.32 553.39,278.97 553.64,270.65 553.89,263.27 554.14,256.77 554.39,251.05 554.63,246.05 554.88,241.71 555.13,237.96 555.38,234.73 555.63,231.98 555.88,229.65 556.13,227.70 556.37,226.07 556.62,224.73 556.87,223.64 557.12,222.77 557.37,222.07 557.62,221.53 557.87,221.12 558.12,220.81 558.36,220.59 558.61,220.43 558.86,220.32 559.11,220.25 559.36,220.21 559.61,220.19 559.86,220.18 560.10,220.17 560.35,220.17 560.60,220.17 560.85,220.17 561.10,220.17 561.35,220.17 561.60,220.17 561.85,220.18 562.10,220.19 562.35,220.22 562.60,220.27 562.85,220.35 563.10,220.47 563.36,220.65 563.61,220.91 563.86,221.26 564.11,221.73 564.36,222.35 564.61,223.15 564.86,224.15 565.11,225.40 565.36,226.93 565.61,228.79 565.86,231.03 566.11,233.70 566.36,236.85 566.61,240.54 566.86,244.85 567.11,249.82 567.36,255.54 567.61,262.09 567.87,269.55 568.12,277.99 568.37,287.52 568.62,298.23 568.87,310.22 569.12,323.60 569.37,319.23 569.63,315.37 569.88,311.98 570.13,309.01 570.39,306.42 570.64,304.18 570.89,302.26 571.15,300.63 571.40,299.25 571.65,298.09 571.91,297.13 572.16,296.34 572.42,295.71 572.67,295.21 572.92,294.81 573.18,294.51 573.43,294.28 573.68,294.12 573.94,294.00 574.19,293.93 574.44,293.88 574.70,293.85 574.95,293.83 575.21,293.83 575.46,293.82 575.71,293.82 575.97,293.82 576.22,293.82 576.48,293.82 576.73,293.82 576.99,293.83 577.24,293.84 577.50,293.85 577.75,293.88 578.01,293.92 578.26,293.98 578.52,294.07 578.77,294.20 579.03,294.36 579.28,294.57 579.54,294.85 579.79,295.19 580.05,295.62 580.30,296.14 580.56,296.77 580.81,297.52 581.07,298.41 581.32,299.45 581.58,300.67 581.83,302.07 582.09,303.68 582.34,305.53 582.60,307.62 582.85,310.00 583.11,312.66 583.36,315.66 583.62,319.00 583.87,314.21 584.13,309.92 584.38,306.09 584.64,302.70 584.89,299.69 585.15,297.05 585.40,294.73 585.66,292.72 585.91,290.98 586.17,289.48 586.42,288.21 586.68,287.13 586.93,286.23 587.19,285.49 587.44,284.87 587.70,284.38 587.95,283.99 588.21,283.68 588.46,283.44 588.72,283.27 588.97,283.14 589.23,283.05 589.48,282.99 589.74,282.95 589.99,282.93 590.25,282.92 590.50,282.91 590.76,282.91 591.01,282.91 591.27,282.91 591.52,282.91 591.77,282.91 592.02,282.91 592.27,282.91 592.52,282.92 592.78,282.93 593.03,282.95 593.28,282.98 593.53,283.02 593.78,283.08 594.03,283.16 594.28,283.27 594.53,283.41 594.78,283.59 595.04,283.82 595.29,284.10 595.54,284.44 595.79,284.86 596.04,285.36 596.29,285.95 596.54,286.64 596.79,287.44 597.05,288.37 597.30,289.44 597.55,290.66 597.80,292.05 598.05,293.62 598.30,295.38" fill="none" stroke="#d41c1c" stroke-width="2.1" stroke-linejoin="round" stroke-linecap="butt" />
<rect x="92.3" y="13.5" width="47.80" height="15.90" fill="#fff" stroke="#8a8a8a" stroke-width="0.9"/>
<line x1="95.90" y1="17.6" x2="112.70" y2="17.6" stroke="#177a76" stroke-width="2.0"/>
<line x1="95.90" y1="24.9" x2="112.70" y2="24.9" stroke="#d85c5c" stroke-width="1.9"/>
<text x="114.60" y="19.70" class="lg">M-model</text>
<text x="114.60" y="27.00" class="lg">S-model</text>
<rect x="315.0" y="14.2" width="47.60" height="16.10" fill="#fff" stroke="#8a8a8a" stroke-width="0.9"/>
<line x1="318.60" y1="18.6" x2="335.40" y2="18.6" stroke="#177a76" stroke-width="2.0"/>
<line x1="318.60" y1="25.4" x2="335.40" y2="25.4" stroke="#d85c5c" stroke-width="1.9"/>
<text x="337.30" y="20.70" class="lg">M-model</text>
<text x="337.30" y="27.50" class="lg">S-model</text>
<rect x="537.7" y="14.2" width="48.00" height="16.10" fill="#fff" stroke="#8a8a8a" stroke-width="0.9"/>
<line x1="541.30" y1="18.5" x2="558.10" y2="18.5" stroke="#177a76" stroke-width="2.0"/>
<line x1="541.30" y1="25.5" x2="558.10" y2="25.5" stroke="#d85c5c" stroke-width="1.9"/>
<text x="560.00" y="20.60" class="lg">M-model</text>
<text x="560.00" y="27.60" class="lg">S-model</text>
<rect x="91.6" y="193.3" width="47.80" height="16.10" fill="#fff" stroke="#8a8a8a" stroke-width="0.9"/>
<line x1="95.20" y1="197.4" x2="112.00" y2="197.4" stroke="#177a76" stroke-width="2.0"/>
<line x1="95.20" y1="204.9" x2="112.00" y2="204.9" stroke="#d41c1c" stroke-width="2.0"/>
<text x="113.90" y="199.50" class="lg">M-model</text>
<text x="113.90" y="207.00" class="lg">S-model</text>
<rect x="261.2" y="196.3" width="48.70" height="17.80" fill="#fff" stroke="#8a8a8a" stroke-width="0.9"/>
<line x1="264.80" y1="201.2" x2="281.60" y2="201.2" stroke="#177a76" stroke-width="2.0"/>
<line x1="264.80" y1="208.7" x2="281.60" y2="208.7" stroke="#d41c1c" stroke-width="2.0"/>
<text x="283.50" y="203.30" class="lg">M-model</text>
<text x="283.50" y="210.80" class="lg">S-model</text>
<rect x="475.2" y="195.5" width="48.40" height="18.00" fill="#fff" stroke="#8a8a8a" stroke-width="0.9"/>
<line x1="478.80" y1="200.5" x2="495.60" y2="200.5" stroke="#177a76" stroke-width="2.0"/>
<line x1="478.80" y1="208.5" x2="495.60" y2="208.5" stroke="#d41c1c" stroke-width="2.0"/>
<text x="497.50" y="202.60" class="lg">M-model</text>
<text x="497.50" y="210.60" class="lg">S-model</text>
</svg>
</body></html>
